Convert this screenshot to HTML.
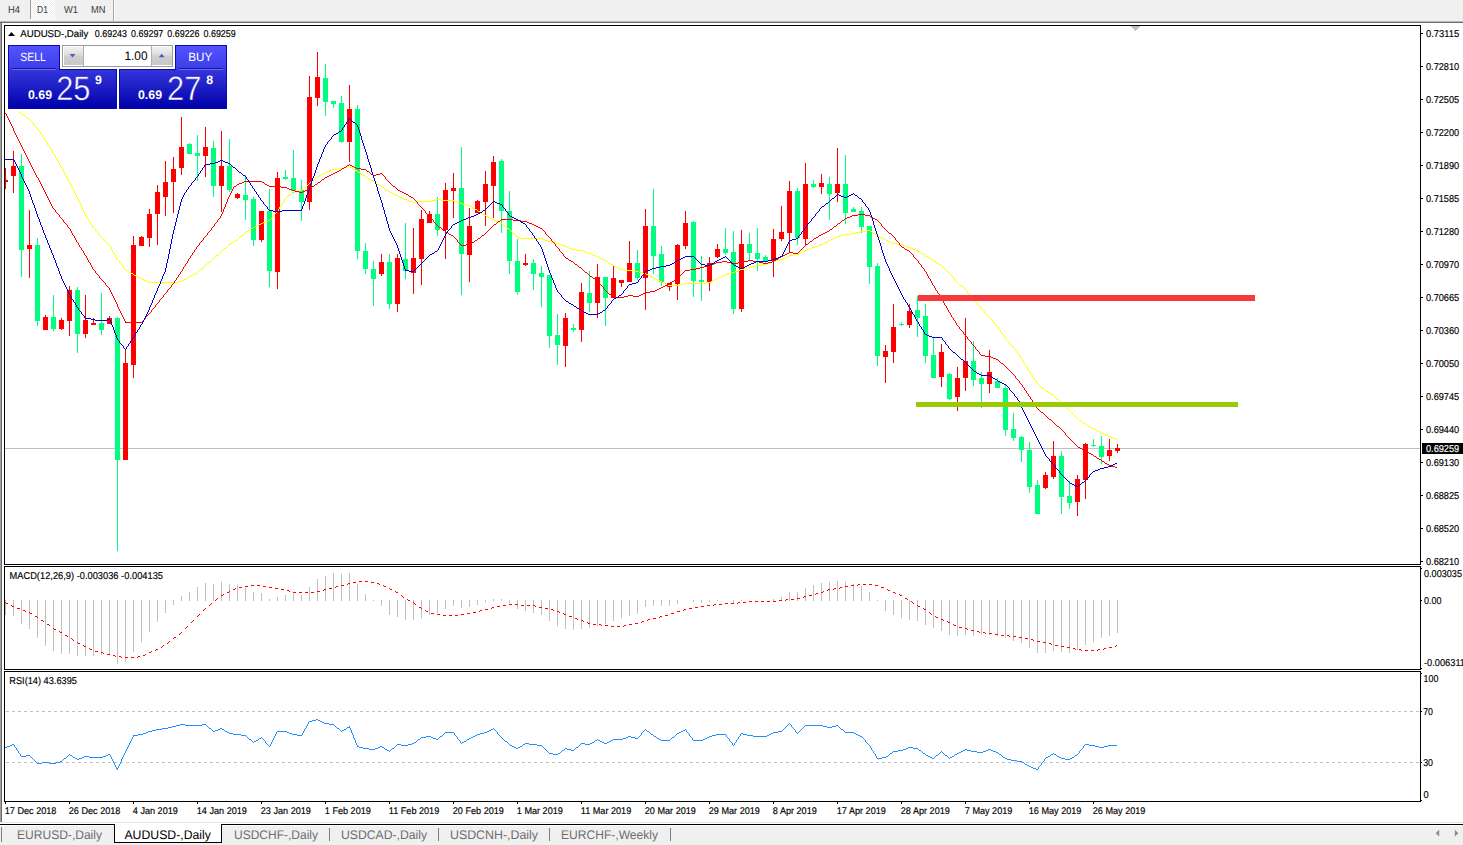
<!DOCTYPE html>
<html><head><meta charset="utf-8"><title>AUDUSD-,Daily</title>
<style>html,body{margin:0;padding:0;background:#f0f0f0;overflow:hidden}svg{display:block}text{font-family:"Liberation Sans",sans-serif}</style></head>
<body>
<svg width="1463" height="845" viewBox="0 0 1463 845" font-family="Liberation Sans, sans-serif" shape-rendering="crispEdges" text-rendering="geometricPrecision">
<defs>
<linearGradient id="gtab" x1="0" y1="0" x2="0" y2="1"><stop offset="0" stop-color="#5555ff"/><stop offset="1" stop-color="#3c3ce6"/></linearGradient>
<linearGradient id="gpan" gradientUnits="userSpaceOnUse" x1="0" y1="69" x2="0" y2="109"><stop offset="0" stop-color="#3636dc"/><stop offset="1" stop-color="#0000aa"/></linearGradient>
<linearGradient id="gbtn" x1="0" y1="0" x2="0" y2="1"><stop offset="0" stop-color="#f2f2f2"/><stop offset="0.45" stop-color="#dcdcdc"/><stop offset="0.5" stop-color="#cfcfcf"/><stop offset="1" stop-color="#c8c8c8"/></linearGradient>
<pattern id="chk" width="2" height="2" patternUnits="userSpaceOnUse"><rect width="2" height="2" fill="#f0f0f0"/><rect width="1" height="1" fill="#ffffff"/><rect x="1" y="1" width="1" height="1" fill="#ffffff"/></pattern>
<clipPath id="cm"><rect x="5" y="26" width="1415" height="538"/></clipPath>
</defs>
<rect x="0" y="0" width="1463" height="845" fill="#f0f0f0" />
<rect x="0" y="21" width="1463" height="1" fill="#b9b9b9" />
<rect x="0" y="22" width="1463" height="1" fill="#6e6e6e" />
<rect x="0" y="23" width="1463" height="803" fill="#ffffff" />
<rect x="0" y="23" width="1" height="800" fill="#a0a0a0" />
<rect x="1" y="23" width="1" height="800" fill="#696969" />
<rect x="0" y="822" width="1463" height="1" fill="#e3e3e3" />
<rect x="0" y="826" width="1463" height="19" fill="#f0f0f0" />
<rect x="30" y="0" width="1" height="19" fill="#a0a0a0" />
<rect x="31" y="0" width="24" height="19" fill="url(#chk)" />
<rect x="113" y="0" width="1" height="21" fill="#a8a8a8" />
<rect x="114" y="0" width="1" height="21" fill="#ffffff" />
<rect x="30" y="19" width="26" height="1" fill="#f8f8f8" />
<text x="8" y="12.9" font-size="10.1" fill="#3c3c3c" text-anchor="start" font-weight="normal" textLength="12" lengthAdjust="spacingAndGlyphs"  >H4</text>
<text x="37" y="12.9" font-size="10.1" fill="#3c3c3c" text-anchor="start" font-weight="normal" textLength="11" lengthAdjust="spacingAndGlyphs"  >D1</text>
<text x="64" y="12.9" font-size="10.1" fill="#3c3c3c" text-anchor="start" font-weight="normal" textLength="14" lengthAdjust="spacingAndGlyphs"  >W1</text>
<text x="91" y="12.9" font-size="10.1" fill="#3c3c3c" text-anchor="start" font-weight="normal" textLength="14.5" lengthAdjust="spacingAndGlyphs"  >MN</text>
<rect x="4" y="25" width="1417" height="1" fill="#000" />
<rect x="4" y="564" width="1417" height="1" fill="#000" />
<rect x="4" y="25" width="1" height="540" fill="#000" />
<rect x="1420" y="25" width="1" height="540" fill="#000" />
<rect x="4" y="566" width="1417" height="1" fill="#000" />
<rect x="4" y="669" width="1417" height="1" fill="#000" />
<rect x="4" y="566" width="1" height="104" fill="#000" />
<rect x="1420" y="566" width="1" height="104" fill="#000" />
<rect x="4" y="671" width="1417" height="1" fill="#000" />
<rect x="4" y="801" width="1417" height="1" fill="#000" />
<rect x="4" y="671" width="1" height="131" fill="#000" />
<rect x="1420" y="671" width="1" height="131" fill="#000" />
<rect x="1421" y="33" width="2" height="1" fill="#000" />
<text transform="translate(1426 36.5) scale(1 1.07)" font-size="9.3" fill="#000" text-anchor="start" font-weight="normal" textLength="33.2" lengthAdjust="spacingAndGlyphs" stroke="#000" stroke-width="0.15">0.73115</text>
<rect x="1421" y="66" width="2" height="1" fill="#000" />
<text transform="translate(1426 69.5) scale(1 1.07)" font-size="9.3" fill="#000" text-anchor="start" font-weight="normal" textLength="33.2" lengthAdjust="spacingAndGlyphs" stroke="#000" stroke-width="0.15">0.72810</text>
<rect x="1421" y="99" width="2" height="1" fill="#000" />
<text transform="translate(1426 102.5) scale(1 1.07)" font-size="9.3" fill="#000" text-anchor="start" font-weight="normal" textLength="33.2" lengthAdjust="spacingAndGlyphs" stroke="#000" stroke-width="0.15">0.72505</text>
<rect x="1421" y="132" width="2" height="1" fill="#000" />
<text transform="translate(1426 135.5) scale(1 1.07)" font-size="9.3" fill="#000" text-anchor="start" font-weight="normal" textLength="33.2" lengthAdjust="spacingAndGlyphs" stroke="#000" stroke-width="0.15">0.72200</text>
<rect x="1421" y="165" width="2" height="1" fill="#000" />
<text transform="translate(1426 168.5) scale(1 1.07)" font-size="9.3" fill="#000" text-anchor="start" font-weight="normal" textLength="33.2" lengthAdjust="spacingAndGlyphs" stroke="#000" stroke-width="0.15">0.71890</text>
<rect x="1421" y="198" width="2" height="1" fill="#000" />
<text transform="translate(1426 201.5) scale(1 1.07)" font-size="9.3" fill="#000" text-anchor="start" font-weight="normal" textLength="33.2" lengthAdjust="spacingAndGlyphs" stroke="#000" stroke-width="0.15">0.71585</text>
<rect x="1421" y="231" width="2" height="1" fill="#000" />
<text transform="translate(1426 234.5) scale(1 1.07)" font-size="9.3" fill="#000" text-anchor="start" font-weight="normal" textLength="33.2" lengthAdjust="spacingAndGlyphs" stroke="#000" stroke-width="0.15">0.71280</text>
<rect x="1421" y="264" width="2" height="1" fill="#000" />
<text transform="translate(1426 267.5) scale(1 1.07)" font-size="9.3" fill="#000" text-anchor="start" font-weight="normal" textLength="33.2" lengthAdjust="spacingAndGlyphs" stroke="#000" stroke-width="0.15">0.70970</text>
<rect x="1421" y="297" width="2" height="1" fill="#000" />
<text transform="translate(1426 300.5) scale(1 1.07)" font-size="9.3" fill="#000" text-anchor="start" font-weight="normal" textLength="33.2" lengthAdjust="spacingAndGlyphs" stroke="#000" stroke-width="0.15">0.70665</text>
<rect x="1421" y="330" width="2" height="1" fill="#000" />
<text transform="translate(1426 333.5) scale(1 1.07)" font-size="9.3" fill="#000" text-anchor="start" font-weight="normal" textLength="33.2" lengthAdjust="spacingAndGlyphs" stroke="#000" stroke-width="0.15">0.70360</text>
<rect x="1421" y="363" width="2" height="1" fill="#000" />
<text transform="translate(1426 366.5) scale(1 1.07)" font-size="9.3" fill="#000" text-anchor="start" font-weight="normal" textLength="33.2" lengthAdjust="spacingAndGlyphs" stroke="#000" stroke-width="0.15">0.70050</text>
<rect x="1421" y="396" width="2" height="1" fill="#000" />
<text transform="translate(1426 399.5) scale(1 1.07)" font-size="9.3" fill="#000" text-anchor="start" font-weight="normal" textLength="33.2" lengthAdjust="spacingAndGlyphs" stroke="#000" stroke-width="0.15">0.69745</text>
<rect x="1421" y="429" width="2" height="1" fill="#000" />
<text transform="translate(1426 432.5) scale(1 1.07)" font-size="9.3" fill="#000" text-anchor="start" font-weight="normal" textLength="33.2" lengthAdjust="spacingAndGlyphs" stroke="#000" stroke-width="0.15">0.69440</text>
<rect x="1421" y="462" width="2" height="1" fill="#000" />
<text transform="translate(1426 465.5) scale(1 1.07)" font-size="9.3" fill="#000" text-anchor="start" font-weight="normal" textLength="33.2" lengthAdjust="spacingAndGlyphs" stroke="#000" stroke-width="0.15">0.69130</text>
<rect x="1421" y="495" width="2" height="1" fill="#000" />
<text transform="translate(1426 498.5) scale(1 1.07)" font-size="9.3" fill="#000" text-anchor="start" font-weight="normal" textLength="33.2" lengthAdjust="spacingAndGlyphs" stroke="#000" stroke-width="0.15">0.68825</text>
<rect x="1421" y="528" width="2" height="1" fill="#000" />
<text transform="translate(1426 531.5) scale(1 1.07)" font-size="9.3" fill="#000" text-anchor="start" font-weight="normal" textLength="33.2" lengthAdjust="spacingAndGlyphs" stroke="#000" stroke-width="0.15">0.68520</text>
<rect x="1421" y="561" width="2" height="1" fill="#000" />
<text transform="translate(1426 564.5) scale(1 1.07)" font-size="9.3" fill="#000" text-anchor="start" font-weight="normal" textLength="33.2" lengthAdjust="spacingAndGlyphs" stroke="#000" stroke-width="0.15">0.68210</text>
<rect x="5" y="448" width="1415" height="1" fill="#c0c0c0" />
<rect x="1422" y="443" width="41" height="11" fill="#000" />
<text transform="translate(1426 451.8) scale(1 1.07)" font-size="9.3" fill="#fff" text-anchor="start" font-weight="normal" textLength="33.2" lengthAdjust="spacingAndGlyphs" stroke="#fff" stroke-width="0.15">0.69259</text>
<rect x="1421" y="568" width="1" height="1" fill="#000" />
<text transform="translate(1424 577) scale(1 1.07)" font-size="9.3" fill="#000" text-anchor="start" font-weight="normal" textLength="38" lengthAdjust="spacingAndGlyphs" stroke="#000" stroke-width="0.15">0.003035</text>
<rect x="1421" y="600" width="1" height="1" fill="#000" />
<text transform="translate(1424 603.5) scale(1 1.07)" font-size="9.3" fill="#000" text-anchor="start" font-weight="normal" textLength="17.5" lengthAdjust="spacingAndGlyphs" stroke="#000" stroke-width="0.15">0.00</text>
<rect x="1421" y="668" width="1" height="1" fill="#000" />
<text transform="translate(1424 666) scale(1 1.07)" font-size="9.3" fill="#000" text-anchor="start" font-weight="normal" textLength="41" lengthAdjust="spacingAndGlyphs" stroke="#000" stroke-width="0.15">-0.006311</text>
<rect x="1421" y="673" width="1" height="1" fill="#000" />
<text transform="translate(1423.6 682) scale(1 1.07)" font-size="9.3" fill="#000" text-anchor="start" font-weight="normal" textLength="14.8" lengthAdjust="spacingAndGlyphs" stroke="#000" stroke-width="0.15">100</text>
<rect x="1421" y="711" width="1" height="1" fill="#000" />
<text transform="translate(1423.2 714.5) scale(1 1.07)" font-size="9.3" fill="#000" text-anchor="start" font-weight="normal" textLength="9.8" lengthAdjust="spacingAndGlyphs" stroke="#000" stroke-width="0.15">70</text>
<rect x="1421" y="762" width="1" height="1" fill="#000" />
<text transform="translate(1423.2 765.5) scale(1 1.07)" font-size="9.3" fill="#000" text-anchor="start" font-weight="normal" textLength="9.8" lengthAdjust="spacingAndGlyphs" stroke="#000" stroke-width="0.15">30</text>
<rect x="1421" y="800" width="1" height="1" fill="#000" />
<text transform="translate(1423.6 797.5) scale(1 1.07)" font-size="9.3" fill="#000" text-anchor="start" font-weight="normal" stroke="#000" stroke-width="0.15">0</text>
<rect x="5" y="802" width="1" height="2" fill="#000" />
<text transform="translate(4.8 814) scale(1 1.07)" font-size="9.1" fill="#000" text-anchor="start" font-weight="normal" stroke="#000" stroke-width="0.15">17 Dec 2018</text>
<rect x="69" y="802" width="1" height="2" fill="#000" />
<text transform="translate(68.8 814) scale(1 1.07)" font-size="9.1" fill="#000" text-anchor="start" font-weight="normal" stroke="#000" stroke-width="0.15">26 Dec 2018</text>
<rect x="133" y="802" width="1" height="2" fill="#000" />
<text transform="translate(132.8 814) scale(1 1.07)" font-size="9.1" fill="#000" text-anchor="start" font-weight="normal" stroke="#000" stroke-width="0.15">4 Jan 2019</text>
<rect x="197" y="802" width="1" height="2" fill="#000" />
<text transform="translate(196.8 814) scale(1 1.07)" font-size="9.1" fill="#000" text-anchor="start" font-weight="normal" stroke="#000" stroke-width="0.15">14 Jan 2019</text>
<rect x="261" y="802" width="1" height="2" fill="#000" />
<text transform="translate(260.8 814) scale(1 1.07)" font-size="9.1" fill="#000" text-anchor="start" font-weight="normal" stroke="#000" stroke-width="0.15">23 Jan 2019</text>
<rect x="325" y="802" width="1" height="2" fill="#000" />
<text transform="translate(324.8 814) scale(1 1.07)" font-size="9.1" fill="#000" text-anchor="start" font-weight="normal" stroke="#000" stroke-width="0.15">1 Feb 2019</text>
<rect x="389" y="802" width="1" height="2" fill="#000" />
<text transform="translate(388.8 814) scale(1 1.07)" font-size="9.1" fill="#000" text-anchor="start" font-weight="normal" stroke="#000" stroke-width="0.15">11 Feb 2019</text>
<rect x="453" y="802" width="1" height="2" fill="#000" />
<text transform="translate(452.8 814) scale(1 1.07)" font-size="9.1" fill="#000" text-anchor="start" font-weight="normal" stroke="#000" stroke-width="0.15">20 Feb 2019</text>
<rect x="517" y="802" width="1" height="2" fill="#000" />
<text transform="translate(516.8 814) scale(1 1.07)" font-size="9.1" fill="#000" text-anchor="start" font-weight="normal" stroke="#000" stroke-width="0.15">1 Mar 2019</text>
<rect x="581" y="802" width="1" height="2" fill="#000" />
<text transform="translate(580.8 814) scale(1 1.07)" font-size="9.1" fill="#000" text-anchor="start" font-weight="normal" stroke="#000" stroke-width="0.15">11 Mar 2019</text>
<rect x="645" y="802" width="1" height="2" fill="#000" />
<text transform="translate(644.8 814) scale(1 1.07)" font-size="9.1" fill="#000" text-anchor="start" font-weight="normal" stroke="#000" stroke-width="0.15">20 Mar 2019</text>
<rect x="709" y="802" width="1" height="2" fill="#000" />
<text transform="translate(708.8 814) scale(1 1.07)" font-size="9.1" fill="#000" text-anchor="start" font-weight="normal" stroke="#000" stroke-width="0.15">29 Mar 2019</text>
<rect x="773" y="802" width="1" height="2" fill="#000" />
<text transform="translate(772.8 814) scale(1 1.07)" font-size="9.1" fill="#000" text-anchor="start" font-weight="normal" stroke="#000" stroke-width="0.15">8 Apr 2019</text>
<rect x="837" y="802" width="1" height="2" fill="#000" />
<text transform="translate(836.8 814) scale(1 1.07)" font-size="9.1" fill="#000" text-anchor="start" font-weight="normal" stroke="#000" stroke-width="0.15">17 Apr 2019</text>
<rect x="901" y="802" width="1" height="2" fill="#000" />
<text transform="translate(900.8 814) scale(1 1.07)" font-size="9.1" fill="#000" text-anchor="start" font-weight="normal" stroke="#000" stroke-width="0.15">28 Apr 2019</text>
<rect x="965" y="802" width="1" height="2" fill="#000" />
<text transform="translate(964.8 814) scale(1 1.07)" font-size="9.1" fill="#000" text-anchor="start" font-weight="normal" stroke="#000" stroke-width="0.15">7 May 2019</text>
<rect x="1029" y="802" width="1" height="2" fill="#000" />
<text transform="translate(1028.8 814) scale(1 1.07)" font-size="9.1" fill="#000" text-anchor="start" font-weight="normal" stroke="#000" stroke-width="0.15">16 May 2019</text>
<rect x="1093" y="802" width="1" height="2" fill="#000" />
<text transform="translate(1092.8 814) scale(1 1.07)" font-size="9.1" fill="#000" text-anchor="start" font-weight="normal" stroke="#000" stroke-width="0.15">26 May 2019</text>
<g stroke="#c0c0c0" stroke-width="1" stroke-dasharray="3 3">
<line x1="6" y1="711.5" x2="1420" y2="711.5"/><line x1="6" y1="762.5" x2="1420" y2="762.5"/></g>
<g clip-path="url(#cm)">
<rect x="5" y="168" width="1" height="21" fill="#ff0000" />
<rect x="3" y="180" width="5" height="2" fill="#ff0000" />
<rect x="13" y="151" width="1" height="42" fill="#ff0000" />
<rect x="11" y="166" width="5" height="10" fill="#ff0000" />
<rect x="21" y="154" width="1" height="123" fill="#00ff7f" />
<rect x="19" y="166" width="5" height="84" fill="#00ff7f" />
<rect x="29" y="210" width="1" height="68" fill="#ff0000" />
<rect x="27" y="245" width="5" height="4" fill="#ff0000" />
<rect x="37" y="238" width="1" height="88" fill="#00ff7f" />
<rect x="35" y="245" width="5" height="76" fill="#00ff7f" />
<rect x="45" y="315" width="1" height="15" fill="#ff0000" />
<rect x="43" y="317" width="5" height="13" fill="#ff0000" />
<rect x="53" y="295" width="1" height="36" fill="#00ff7f" />
<rect x="51" y="317" width="5" height="12" fill="#00ff7f" />
<rect x="61" y="318" width="1" height="12" fill="#ff0000" />
<rect x="59" y="320" width="5" height="9" fill="#ff0000" />
<rect x="69" y="286" width="1" height="50" fill="#ff0000" />
<rect x="67" y="290" width="5" height="31" fill="#ff0000" />
<rect x="77" y="287" width="1" height="66" fill="#00ff7f" />
<rect x="75" y="290" width="5" height="44" fill="#00ff7f" />
<rect x="85" y="295" width="1" height="43" fill="#ff0000" />
<rect x="83" y="320" width="5" height="14" fill="#ff0000" />
<rect x="93" y="318" width="1" height="7" fill="#ff0000" />
<rect x="91" y="323" width="5" height="2" fill="#ff0000" />
<rect x="101" y="293" width="1" height="42" fill="#00ff7f" />
<rect x="99" y="323" width="5" height="7" fill="#00ff7f" />
<rect x="109" y="316" width="1" height="8" fill="#ff0000" />
<rect x="107" y="318" width="5" height="6" fill="#ff0000" />
<rect x="117" y="317" width="1" height="234" fill="#00ff7f" />
<rect x="115" y="318" width="5" height="142" fill="#00ff7f" />
<rect x="125" y="349" width="1" height="111" fill="#ff0000" />
<rect x="123" y="363" width="5" height="97" fill="#ff0000" />
<rect x="133" y="236" width="1" height="142" fill="#ff0000" />
<rect x="131" y="245" width="5" height="120" fill="#ff0000" />
<rect x="141" y="236" width="1" height="10" fill="#ff0000" />
<rect x="139" y="237" width="5" height="9" fill="#ff0000" />
<rect x="149" y="209" width="1" height="38" fill="#ff0000" />
<rect x="147" y="214" width="5" height="24" fill="#ff0000" />
<rect x="157" y="185" width="1" height="60" fill="#ff0000" />
<rect x="155" y="192" width="5" height="22" fill="#ff0000" />
<rect x="165" y="161" width="1" height="55" fill="#ff0000" />
<rect x="163" y="182" width="5" height="15" fill="#ff0000" />
<rect x="173" y="157" width="1" height="56" fill="#ff0000" />
<rect x="171" y="169" width="5" height="13" fill="#ff0000" />
<rect x="181" y="117" width="1" height="58" fill="#ff0000" />
<rect x="179" y="147" width="5" height="21" fill="#ff0000" />
<rect x="189" y="143" width="1" height="11" fill="#00ff7f" />
<rect x="187" y="144" width="5" height="10" fill="#00ff7f" />
<rect x="197" y="135" width="1" height="46" fill="#00ff7f" />
<rect x="195" y="153" width="5" height="3" fill="#00ff7f" />
<rect x="205" y="127" width="1" height="50" fill="#ff0000" />
<rect x="203" y="147" width="5" height="9" fill="#ff0000" />
<rect x="213" y="141" width="1" height="56" fill="#00ff7f" />
<rect x="211" y="148" width="5" height="38" fill="#00ff7f" />
<rect x="221" y="131" width="1" height="81" fill="#ff0000" />
<rect x="219" y="166" width="5" height="20" fill="#ff0000" />
<rect x="229" y="139" width="1" height="53" fill="#00ff7f" />
<rect x="227" y="166" width="5" height="24" fill="#00ff7f" />
<rect x="237" y="193" width="1" height="6" fill="#ff0000" />
<rect x="235" y="194" width="5" height="4" fill="#ff0000" />
<rect x="245" y="175" width="1" height="45" fill="#00ff7f" />
<rect x="243" y="195" width="5" height="5" fill="#00ff7f" />
<rect x="253" y="197" width="1" height="49" fill="#00ff7f" />
<rect x="251" y="199" width="5" height="41" fill="#00ff7f" />
<rect x="261" y="211" width="1" height="31" fill="#ff0000" />
<rect x="259" y="211" width="5" height="29" fill="#ff0000" />
<rect x="269" y="189" width="1" height="98" fill="#00ff7f" />
<rect x="267" y="211" width="5" height="60" fill="#00ff7f" />
<rect x="277" y="172" width="1" height="117" fill="#ff0000" />
<rect x="275" y="178" width="5" height="94" fill="#ff0000" />
<rect x="285" y="170" width="1" height="10" fill="#00ff7f" />
<rect x="283" y="177" width="5" height="2" fill="#00ff7f" />
<rect x="293" y="150" width="1" height="43" fill="#00ff7f" />
<rect x="291" y="178" width="5" height="13" fill="#00ff7f" />
<rect x="301" y="180" width="1" height="41" fill="#00ff7f" />
<rect x="299" y="190" width="5" height="12" fill="#00ff7f" />
<rect x="309" y="76" width="1" height="134" fill="#ff0000" />
<rect x="307" y="97" width="5" height="105" fill="#ff0000" />
<rect x="317" y="52" width="1" height="54" fill="#ff0000" />
<rect x="315" y="77" width="5" height="21" fill="#ff0000" />
<rect x="325" y="64" width="1" height="52" fill="#00ff7f" />
<rect x="323" y="78" width="5" height="24" fill="#00ff7f" />
<rect x="333" y="101" width="1" height="7" fill="#00ff7f" />
<rect x="331" y="101" width="5" height="3" fill="#00ff7f" />
<rect x="341" y="96" width="1" height="47" fill="#00ff7f" />
<rect x="339" y="103" width="5" height="39" fill="#00ff7f" />
<rect x="349" y="85" width="1" height="77" fill="#ff0000" />
<rect x="347" y="109" width="5" height="33" fill="#ff0000" />
<rect x="357" y="105" width="1" height="154" fill="#00ff7f" />
<rect x="355" y="109" width="5" height="142" fill="#00ff7f" />
<rect x="365" y="243" width="1" height="31" fill="#00ff7f" />
<rect x="363" y="251" width="5" height="18" fill="#00ff7f" />
<rect x="373" y="261" width="1" height="45" fill="#00ff7f" />
<rect x="371" y="269" width="5" height="10" fill="#00ff7f" />
<rect x="381" y="254" width="1" height="22" fill="#ff0000" />
<rect x="379" y="262" width="5" height="12" fill="#ff0000" />
<rect x="389" y="254" width="1" height="55" fill="#00ff7f" />
<rect x="387" y="262" width="5" height="42" fill="#00ff7f" />
<rect x="397" y="254" width="1" height="58" fill="#ff0000" />
<rect x="395" y="258" width="5" height="46" fill="#ff0000" />
<rect x="405" y="223" width="1" height="56" fill="#00ff7f" />
<rect x="403" y="259" width="5" height="12" fill="#00ff7f" />
<rect x="413" y="228" width="1" height="66" fill="#ff0000" />
<rect x="411" y="258" width="5" height="15" fill="#ff0000" />
<rect x="421" y="210" width="1" height="75" fill="#ff0000" />
<rect x="419" y="219" width="5" height="40" fill="#ff0000" />
<rect x="429" y="211" width="1" height="12" fill="#ff0000" />
<rect x="427" y="214" width="5" height="9" fill="#ff0000" />
<rect x="437" y="197" width="1" height="39" fill="#00ff7f" />
<rect x="435" y="214" width="5" height="16" fill="#00ff7f" />
<rect x="445" y="183" width="1" height="76" fill="#ff0000" />
<rect x="443" y="190" width="5" height="40" fill="#ff0000" />
<rect x="453" y="173" width="1" height="45" fill="#ff0000" />
<rect x="451" y="188" width="5" height="3" fill="#ff0000" />
<rect x="461" y="147" width="1" height="148" fill="#00ff7f" />
<rect x="459" y="188" width="5" height="66" fill="#00ff7f" />
<rect x="469" y="208" width="1" height="74" fill="#ff0000" />
<rect x="467" y="226" width="5" height="29" fill="#ff0000" />
<rect x="477" y="200" width="1" height="13" fill="#ff0000" />
<rect x="475" y="201" width="5" height="12" fill="#ff0000" />
<rect x="485" y="171" width="1" height="55" fill="#ff0000" />
<rect x="483" y="184" width="5" height="18" fill="#ff0000" />
<rect x="493" y="156" width="1" height="62" fill="#ff0000" />
<rect x="491" y="162" width="5" height="24" fill="#ff0000" />
<rect x="501" y="159" width="1" height="74" fill="#00ff7f" />
<rect x="499" y="161" width="5" height="50" fill="#00ff7f" />
<rect x="509" y="191" width="1" height="83" fill="#00ff7f" />
<rect x="507" y="211" width="5" height="50" fill="#00ff7f" />
<rect x="517" y="239" width="1" height="56" fill="#00ff7f" />
<rect x="515" y="261" width="5" height="31" fill="#00ff7f" />
<rect x="525" y="254" width="1" height="12" fill="#ff0000" />
<rect x="523" y="263" width="5" height="2" fill="#ff0000" />
<rect x="533" y="259" width="1" height="31" fill="#00ff7f" />
<rect x="531" y="263" width="5" height="11" fill="#00ff7f" />
<rect x="541" y="266" width="1" height="41" fill="#00ff7f" />
<rect x="539" y="273" width="5" height="4" fill="#00ff7f" />
<rect x="549" y="275" width="1" height="73" fill="#00ff7f" />
<rect x="547" y="275" width="5" height="61" fill="#00ff7f" />
<rect x="557" y="314" width="1" height="51" fill="#00ff7f" />
<rect x="555" y="335" width="5" height="10" fill="#00ff7f" />
<rect x="565" y="313" width="1" height="54" fill="#ff0000" />
<rect x="563" y="318" width="5" height="28" fill="#ff0000" />
<rect x="573" y="324" width="1" height="8" fill="#00ff7f" />
<rect x="571" y="328" width="5" height="2" fill="#00ff7f" />
<rect x="581" y="283" width="1" height="59" fill="#ff0000" />
<rect x="579" y="292" width="5" height="38" fill="#ff0000" />
<rect x="589" y="271" width="1" height="41" fill="#00ff7f" />
<rect x="587" y="293" width="5" height="10" fill="#00ff7f" />
<rect x="597" y="264" width="1" height="54" fill="#ff0000" />
<rect x="595" y="277" width="5" height="26" fill="#ff0000" />
<rect x="605" y="277" width="1" height="49" fill="#00ff7f" />
<rect x="603" y="277" width="5" height="21" fill="#00ff7f" />
<rect x="613" y="265" width="1" height="33" fill="#ff0000" />
<rect x="611" y="278" width="5" height="20" fill="#ff0000" />
<rect x="621" y="280" width="1" height="7" fill="#ff0000" />
<rect x="619" y="280" width="5" height="3" fill="#ff0000" />
<rect x="629" y="241" width="1" height="41" fill="#ff0000" />
<rect x="627" y="263" width="5" height="19" fill="#ff0000" />
<rect x="637" y="250" width="1" height="30" fill="#00ff7f" />
<rect x="635" y="263" width="5" height="15" fill="#00ff7f" />
<rect x="645" y="209" width="1" height="101" fill="#ff0000" />
<rect x="643" y="226" width="5" height="52" fill="#ff0000" />
<rect x="653" y="189" width="1" height="85" fill="#00ff7f" />
<rect x="651" y="226" width="5" height="30" fill="#00ff7f" />
<rect x="661" y="246" width="1" height="40" fill="#00ff7f" />
<rect x="659" y="254" width="5" height="28" fill="#00ff7f" />
<rect x="669" y="283" width="1" height="8" fill="#ff0000" />
<rect x="667" y="283" width="5" height="4" fill="#ff0000" />
<rect x="677" y="244" width="1" height="56" fill="#ff0000" />
<rect x="675" y="245" width="5" height="39" fill="#ff0000" />
<rect x="685" y="211" width="1" height="38" fill="#ff0000" />
<rect x="683" y="223" width="5" height="23" fill="#ff0000" />
<rect x="693" y="221" width="1" height="76" fill="#00ff7f" />
<rect x="691" y="222" width="5" height="59" fill="#00ff7f" />
<rect x="701" y="256" width="1" height="45" fill="#00ff7f" />
<rect x="699" y="280" width="5" height="2" fill="#00ff7f" />
<rect x="709" y="257" width="1" height="34" fill="#ff0000" />
<rect x="707" y="263" width="5" height="19" fill="#ff0000" />
<rect x="717" y="244" width="1" height="14" fill="#ff0000" />
<rect x="715" y="249" width="5" height="8" fill="#ff0000" />
<rect x="725" y="228" width="1" height="27" fill="#00ff7f" />
<rect x="723" y="249" width="5" height="4" fill="#00ff7f" />
<rect x="733" y="231" width="1" height="83" fill="#00ff7f" />
<rect x="731" y="252" width="5" height="57" fill="#00ff7f" />
<rect x="741" y="230" width="1" height="82" fill="#ff0000" />
<rect x="739" y="244" width="5" height="65" fill="#ff0000" />
<rect x="749" y="233" width="1" height="28" fill="#00ff7f" />
<rect x="747" y="244" width="5" height="9" fill="#00ff7f" />
<rect x="757" y="228" width="1" height="43" fill="#00ff7f" />
<rect x="755" y="253" width="5" height="6" fill="#00ff7f" />
<rect x="765" y="255" width="1" height="9" fill="#00ff7f" />
<rect x="763" y="257" width="5" height="5" fill="#00ff7f" />
<rect x="773" y="229" width="1" height="48" fill="#ff0000" />
<rect x="771" y="239" width="5" height="22" fill="#ff0000" />
<rect x="781" y="206" width="1" height="35" fill="#ff0000" />
<rect x="779" y="232" width="5" height="7" fill="#ff0000" />
<rect x="789" y="181" width="1" height="72" fill="#ff0000" />
<rect x="787" y="191" width="5" height="42" fill="#ff0000" />
<rect x="797" y="188" width="1" height="57" fill="#00ff7f" />
<rect x="795" y="191" width="5" height="47" fill="#00ff7f" />
<rect x="805" y="163" width="1" height="83" fill="#ff0000" />
<rect x="803" y="184" width="5" height="55" fill="#ff0000" />
<rect x="813" y="180" width="1" height="8" fill="#00ff7f" />
<rect x="811" y="184" width="5" height="3" fill="#00ff7f" />
<rect x="821" y="174" width="1" height="20" fill="#ff0000" />
<rect x="819" y="183" width="5" height="4" fill="#ff0000" />
<rect x="829" y="177" width="1" height="43" fill="#00ff7f" />
<rect x="827" y="184" width="5" height="10" fill="#00ff7f" />
<rect x="837" y="148" width="1" height="54" fill="#ff0000" />
<rect x="835" y="184" width="5" height="9" fill="#ff0000" />
<rect x="845" y="155" width="1" height="69" fill="#00ff7f" />
<rect x="843" y="184" width="5" height="29" fill="#00ff7f" />
<rect x="853" y="207" width="1" height="5" fill="#00ff7f" />
<rect x="851" y="209" width="5" height="3" fill="#00ff7f" />
<rect x="861" y="207" width="1" height="26" fill="#00ff7f" />
<rect x="859" y="211" width="5" height="16" fill="#00ff7f" />
<rect x="869" y="226" width="1" height="58" fill="#00ff7f" />
<rect x="867" y="226" width="5" height="41" fill="#00ff7f" />
<rect x="877" y="263" width="1" height="103" fill="#00ff7f" />
<rect x="875" y="266" width="5" height="90" fill="#00ff7f" />
<rect x="885" y="345" width="1" height="38" fill="#ff0000" />
<rect x="883" y="351" width="5" height="6" fill="#ff0000" />
<rect x="893" y="304" width="1" height="59" fill="#ff0000" />
<rect x="891" y="327" width="5" height="25" fill="#ff0000" />
<rect x="901" y="322" width="1" height="4" fill="#00ff7f" />
<rect x="899" y="324" width="5" height="1" fill="#00ff7f" />
<rect x="909" y="304" width="1" height="24" fill="#ff0000" />
<rect x="907" y="311" width="5" height="14" fill="#ff0000" />
<rect x="917" y="296" width="1" height="41" fill="#00ff7f" />
<rect x="915" y="310" width="5" height="8" fill="#00ff7f" />
<rect x="925" y="304" width="1" height="59" fill="#00ff7f" />
<rect x="923" y="316" width="5" height="40" fill="#00ff7f" />
<rect x="933" y="338" width="1" height="40" fill="#00ff7f" />
<rect x="931" y="355" width="5" height="23" fill="#00ff7f" />
<rect x="941" y="344" width="1" height="43" fill="#ff0000" />
<rect x="939" y="352" width="5" height="25" fill="#ff0000" />
<rect x="949" y="373" width="1" height="27" fill="#00ff7f" />
<rect x="947" y="374" width="5" height="25" fill="#00ff7f" />
<rect x="957" y="367" width="1" height="44" fill="#ff0000" />
<rect x="955" y="378" width="5" height="19" fill="#ff0000" />
<rect x="965" y="318" width="1" height="73" fill="#ff0000" />
<rect x="963" y="361" width="5" height="17" fill="#ff0000" />
<rect x="973" y="341" width="1" height="45" fill="#00ff7f" />
<rect x="971" y="361" width="5" height="19" fill="#00ff7f" />
<rect x="981" y="372" width="1" height="36" fill="#00ff7f" />
<rect x="979" y="378" width="5" height="6" fill="#00ff7f" />
<rect x="989" y="350" width="1" height="43" fill="#ff0000" />
<rect x="987" y="372" width="5" height="12" fill="#ff0000" />
<rect x="997" y="378" width="1" height="10" fill="#00ff7f" />
<rect x="995" y="381" width="5" height="7" fill="#00ff7f" />
<rect x="1005" y="384" width="1" height="52" fill="#00ff7f" />
<rect x="1003" y="388" width="5" height="42" fill="#00ff7f" />
<rect x="1013" y="413" width="1" height="28" fill="#00ff7f" />
<rect x="1011" y="429" width="5" height="9" fill="#00ff7f" />
<rect x="1021" y="436" width="1" height="26" fill="#00ff7f" />
<rect x="1019" y="437" width="5" height="13" fill="#00ff7f" />
<rect x="1029" y="442" width="1" height="51" fill="#00ff7f" />
<rect x="1027" y="450" width="5" height="37" fill="#00ff7f" />
<rect x="1037" y="480" width="1" height="34" fill="#00ff7f" />
<rect x="1035" y="485" width="5" height="29" fill="#00ff7f" />
<rect x="1045" y="472" width="1" height="17" fill="#ff0000" />
<rect x="1043" y="475" width="5" height="13" fill="#ff0000" />
<rect x="1053" y="441" width="1" height="38" fill="#ff0000" />
<rect x="1051" y="456" width="5" height="21" fill="#ff0000" />
<rect x="1061" y="451" width="1" height="63" fill="#00ff7f" />
<rect x="1059" y="456" width="5" height="41" fill="#00ff7f" />
<rect x="1069" y="481" width="1" height="28" fill="#00ff7f" />
<rect x="1067" y="496" width="5" height="7" fill="#00ff7f" />
<rect x="1077" y="475" width="1" height="41" fill="#ff0000" />
<rect x="1075" y="479" width="5" height="23" fill="#ff0000" />
<rect x="1085" y="443" width="1" height="56" fill="#ff0000" />
<rect x="1083" y="444" width="5" height="36" fill="#ff0000" />
<rect x="1093" y="439" width="1" height="8" fill="#00ff7f" />
<rect x="1091" y="445" width="5" height="1" fill="#00ff7f" />
<rect x="1101" y="436" width="1" height="28" fill="#00ff7f" />
<rect x="1099" y="446" width="5" height="11" fill="#00ff7f" />
<rect x="1109" y="439" width="1" height="22" fill="#ff0000" />
<rect x="1107" y="450" width="5" height="6" fill="#ff0000" />
<rect x="1117" y="444" width="1" height="9" fill="#ff0000" />
<rect x="1115" y="448" width="5" height="3" fill="#ff0000" />
<path d="M5 105h2v1h-2zM7 106h2v1h-2zM9 107h3v1h-3zM12 108h2v1h-2zM14 109h2v1h-2zM16 110h2v1h-2zM18 111h1v1h-1zM19 112h1v1h-1zM20 113h2v1h-2zM22 114h1v1h-1zM23 115h2v1h-2zM25 116h1v1h-1zM26 117h1v1h-1zM27 118h2v1h-2zM29 119h1v1h-1zM30 120h1v1h-1zM31 121h1v1h-1zM32 122h1v1h-1zM33 123h1v1h-1zM33 124h1v1h-1zM34 125h1v1h-1zM35 126h1v1h-1zM36 127h1v1h-1zM37 128h1v1h-1zM38 129h1v1h-1zM38 130h1v1h-1zM39 131h1v1h-1zM40 132h1v1h-1zM40 133h1v1h-1zM41 134h1v1h-1zM42 135h1v1h-1zM42 136h1v1h-1zM43 137h1v1h-1zM44 138h1v1h-1zM44 139h1v1h-1zM45 140h1v1h-1zM46 141h1v1h-1zM46 142h1v1h-1zM47 143h1v1h-1zM47 144h1v1h-1zM48 145h1v1h-1zM49 146h1v1h-1zM49 147h1v1h-1zM50 148h1v1h-1zM51 149h1v1h-1zM51 150h1v1h-1zM52 151h1v1h-1zM52 152h1v1h-1zM53 153h1v1h-1zM54 154h1v1h-1zM54 155h1v1h-1zM55 156h1v1h-1zM55 157h1v1h-1zM56 158h1v1h-1zM56 159h1v1h-1zM57 160h1v1h-1zM58 161h1v1h-1zM58 162h1v1h-1zM59 163h1v1h-1zM59 164h1v1h-1zM60 165h1v1h-1zM60 166h1v1h-1zM348 166h2v1h-2zM61 167h1v1h-1zM344 167h4v1h-4zM350 167h2v1h-2zM62 168h1v1h-1zM338 168h6v1h-6zM352 168h1v1h-1zM62 169h1v1h-1zM332 169h6v1h-6zM353 169h2v1h-2zM63 170h1v1h-1zM330 170h2v1h-2zM355 170h2v1h-2zM63 171h1v1h-1zM327 171h3v1h-3zM357 171h1v1h-1zM64 172h1v1h-1zM325 172h2v1h-2zM358 172h2v1h-2zM64 173h1v1h-1zM323 173h2v1h-2zM360 173h1v1h-1zM65 174h1v1h-1zM321 174h2v1h-2zM361 174h2v1h-2zM65 175h1v1h-1zM319 175h2v1h-2zM363 175h2v1h-2zM66 176h1v1h-1zM317 176h2v1h-2zM365 176h1v1h-1zM66 177h1v1h-1zM316 177h1v1h-1zM366 177h2v1h-2zM67 178h1v1h-1zM315 178h1v1h-1zM368 178h1v1h-1zM67 179h1v1h-1zM314 179h1v1h-1zM369 179h2v1h-2zM68 180h1v1h-1zM312 180h2v1h-2zM371 180h2v1h-2zM68 181h1v1h-1zM311 181h1v1h-1zM373 181h1v1h-1zM69 182h1v1h-1zM310 182h1v1h-1zM374 182h2v1h-2zM70 183h1v1h-1zM309 183h1v1h-1zM376 183h1v1h-1zM70 184h1v1h-1zM308 184h1v1h-1zM377 184h2v1h-2zM71 185h1v1h-1zM307 185h1v1h-1zM379 185h2v1h-2zM71 186h1v1h-1zM306 186h1v1h-1zM381 186h1v1h-1zM72 187h1v1h-1zM304 187h2v1h-2zM382 187h2v1h-2zM72 188h1v1h-1zM303 188h1v1h-1zM384 188h1v1h-1zM73 189h1v1h-1zM302 189h1v1h-1zM385 189h2v1h-2zM73 190h1v1h-1zM298 190h4v1h-4zM387 190h2v1h-2zM74 191h1v1h-1zM293 191h5v1h-5zM389 191h1v1h-1zM74 192h1v1h-1zM292 192h1v1h-1zM390 192h2v1h-2zM75 193h1v1h-1zM291 193h1v1h-1zM392 193h2v1h-2zM75 194h1v1h-1zM290 194h1v1h-1zM394 194h2v1h-2zM76 195h1v1h-1zM288 195h2v1h-2zM396 195h2v1h-2zM76 196h1v1h-1zM287 196h1v1h-1zM398 196h2v1h-2zM77 197h1v1h-1zM286 197h1v1h-1zM400 197h2v1h-2zM77 198h1v1h-1zM285 198h1v1h-1zM402 198h2v1h-2zM78 199h1v1h-1zM284 199h1v1h-1zM404 199h3v1h-3zM436 199h5v1h-5zM78 200h1v1h-1zM284 200h1v1h-1zM407 200h2v1h-2zM432 200h4v1h-4zM441 200h14v1h-14zM79 201h1v1h-1zM283 201h1v1h-1zM409 201h3v1h-3zM418 201h14v1h-14zM455 201h2v1h-2zM79 202h1v1h-1zM283 202h1v1h-1zM412 202h6v1h-6zM457 202h3v1h-3zM80 203h1v1h-1zM282 203h1v1h-1zM460 203h3v1h-3zM80 204h1v1h-1zM281 204h1v1h-1zM463 204h4v1h-4zM81 205h1v1h-1zM281 205h1v1h-1zM467 205h3v1h-3zM81 206h1v1h-1zM280 206h1v1h-1zM470 206h2v1h-2zM81 207h1v1h-1zM279 207h1v1h-1zM472 207h1v1h-1zM82 208h1v1h-1zM279 208h1v1h-1zM473 208h2v1h-2zM82 209h1v1h-1zM278 209h1v1h-1zM475 209h2v1h-2zM83 210h1v1h-1zM278 210h1v1h-1zM477 210h1v1h-1zM83 211h1v1h-1zM277 211h1v1h-1zM478 211h2v1h-2zM84 212h1v1h-1zM276 212h1v1h-1zM480 212h1v1h-1zM84 213h1v1h-1zM275 213h1v1h-1zM481 213h2v1h-2zM85 214h1v1h-1zM274 214h1v1h-1zM483 214h2v1h-2zM85 215h1v1h-1zM273 215h1v1h-1zM485 215h1v1h-1zM86 216h1v1h-1zM273 216h1v1h-1zM486 216h2v1h-2zM86 217h1v1h-1zM272 217h1v1h-1zM488 217h2v1h-2zM87 218h1v1h-1zM271 218h1v1h-1zM490 218h2v1h-2zM88 219h1v1h-1zM270 219h1v1h-1zM492 219h2v1h-2zM88 220h1v1h-1zM268 220h2v1h-2zM494 220h2v1h-2zM89 221h1v1h-1zM266 221h2v1h-2zM496 221h2v1h-2zM90 222h1v1h-1zM263 222h3v1h-3zM498 222h2v1h-2zM90 223h1v1h-1zM261 223h2v1h-2zM500 223h2v1h-2zM91 224h1v1h-1zM259 224h2v1h-2zM502 224h1v1h-1zM92 225h1v1h-1zM257 225h2v1h-2zM503 225h2v1h-2zM92 226h1v1h-1zM255 226h2v1h-2zM505 226h1v1h-1zM93 227h1v1h-1zM253 227h2v1h-2zM506 227h1v1h-1zM94 228h1v1h-1zM251 228h2v1h-2zM507 228h2v1h-2zM95 229h1v1h-1zM250 229h1v1h-1zM509 229h1v1h-1zM95 230h1v1h-1zM248 230h2v1h-2zM510 230h1v1h-1zM866 230h4v1h-4zM96 231h1v1h-1zM246 231h2v1h-2zM511 231h1v1h-1zM860 231h6v1h-6zM870 231h2v1h-2zM97 232h1v1h-1zM245 232h1v1h-1zM512 232h1v1h-1zM856 232h4v1h-4zM872 232h1v1h-1zM98 233h1v1h-1zM244 233h1v1h-1zM513 233h1v1h-1zM850 233h6v1h-6zM873 233h2v1h-2zM99 234h1v1h-1zM243 234h1v1h-1zM514 234h1v1h-1zM844 234h6v1h-6zM875 234h2v1h-2zM99 235h1v1h-1zM242 235h1v1h-1zM515 235h1v1h-1zM840 235h4v1h-4zM877 235h1v1h-1zM100 236h1v1h-1zM240 236h2v1h-2zM516 236h1v1h-1zM837 236h3v1h-3zM878 236h2v1h-2zM101 237h1v1h-1zM239 237h1v1h-1zM517 237h4v1h-4zM835 237h2v1h-2zM880 237h2v1h-2zM102 238h1v1h-1zM238 238h1v1h-1zM521 238h22v1h-22zM833 238h2v1h-2zM882 238h2v1h-2zM103 239h1v1h-1zM237 239h1v1h-1zM543 239h2v1h-2zM831 239h2v1h-2zM884 239h2v1h-2zM104 240h1v1h-1zM235 240h2v1h-2zM545 240h3v1h-3zM829 240h2v1h-2zM886 240h2v1h-2zM105 241h1v1h-1zM234 241h1v1h-1zM548 241h3v1h-3zM827 241h2v1h-2zM888 241h2v1h-2zM106 242h1v1h-1zM232 242h2v1h-2zM551 242h4v1h-4zM825 242h2v1h-2zM890 242h2v1h-2zM107 243h1v1h-1zM230 243h2v1h-2zM555 243h4v1h-4zM823 243h2v1h-2zM892 243h5v1h-5zM108 244h1v1h-1zM229 244h1v1h-1zM559 244h2v1h-2zM820 244h3v1h-3zM897 244h6v1h-6zM109 245h1v1h-1zM228 245h1v1h-1zM561 245h3v1h-3zM818 245h2v1h-2zM903 245h2v1h-2zM110 246h1v1h-1zM227 246h1v1h-1zM564 246h3v1h-3zM815 246h3v1h-3zM905 246h3v1h-3zM110 247h1v1h-1zM226 247h1v1h-1zM567 247h2v1h-2zM812 247h3v1h-3zM908 247h3v1h-3zM111 248h1v1h-1zM224 248h2v1h-2zM569 248h3v1h-3zM810 248h2v1h-2zM911 248h2v1h-2zM111 249h1v1h-1zM223 249h1v1h-1zM572 249h5v1h-5zM807 249h3v1h-3zM913 249h3v1h-3zM112 250h1v1h-1zM222 250h1v1h-1zM577 250h6v1h-6zM805 250h2v1h-2zM916 250h2v1h-2zM112 251h1v1h-1zM221 251h1v1h-1zM583 251h2v1h-2zM803 251h2v1h-2zM918 251h2v1h-2zM113 252h1v1h-1zM220 252h1v1h-1zM585 252h3v1h-3zM801 252h2v1h-2zM920 252h1v1h-1zM114 253h1v1h-1zM219 253h1v1h-1zM588 253h3v1h-3zM799 253h2v1h-2zM921 253h2v1h-2zM114 254h1v1h-1zM218 254h1v1h-1zM591 254h2v1h-2zM794 254h5v1h-5zM923 254h2v1h-2zM115 255h1v1h-1zM216 255h2v1h-2zM593 255h3v1h-3zM789 255h5v1h-5zM925 255h1v1h-1zM115 256h1v1h-1zM215 256h1v1h-1zM596 256h2v1h-2zM787 256h2v1h-2zM926 256h2v1h-2zM116 257h1v1h-1zM214 257h1v1h-1zM598 257h2v1h-2zM785 257h2v1h-2zM928 257h1v1h-1zM116 258h1v1h-1zM213 258h1v1h-1zM600 258h2v1h-2zM783 258h2v1h-2zM929 258h2v1h-2zM117 259h1v1h-1zM212 259h1v1h-1zM602 259h2v1h-2zM780 259h3v1h-3zM931 259h2v1h-2zM118 260h1v1h-1zM211 260h1v1h-1zM604 260h2v1h-2zM776 260h4v1h-4zM933 260h1v1h-1zM119 261h1v1h-1zM210 261h1v1h-1zM606 261h2v1h-2zM772 261h4v1h-4zM934 261h2v1h-2zM119 262h1v1h-1zM208 262h2v1h-2zM608 262h1v1h-1zM770 262h2v1h-2zM936 262h1v1h-1zM120 263h1v1h-1zM207 263h1v1h-1zM609 263h2v1h-2zM767 263h3v1h-3zM937 263h2v1h-2zM121 264h1v1h-1zM206 264h1v1h-1zM611 264h2v1h-2zM762 264h5v1h-5zM939 264h2v1h-2zM122 265h1v1h-1zM205 265h1v1h-1zM613 265h1v1h-1zM756 265h6v1h-6zM941 265h1v1h-1zM123 266h1v1h-1zM204 266h1v1h-1zM614 266h2v1h-2zM752 266h4v1h-4zM942 266h1v1h-1zM123 267h1v1h-1zM203 267h1v1h-1zM616 267h2v1h-2zM748 267h4v1h-4zM943 267h1v1h-1zM124 268h1v1h-1zM202 268h1v1h-1zM618 268h2v1h-2zM744 268h4v1h-4zM944 268h1v1h-1zM125 269h1v1h-1zM200 269h2v1h-2zM620 269h5v1h-5zM740 269h4v1h-4zM945 269h1v1h-1zM126 270h2v1h-2zM199 270h1v1h-1zM625 270h8v1h-8zM738 270h2v1h-2zM946 270h1v1h-1zM128 271h1v1h-1zM198 271h1v1h-1zM633 271h6v1h-6zM735 271h3v1h-3zM947 271h1v1h-1zM129 272h2v1h-2zM197 272h1v1h-1zM639 272h4v1h-4zM732 272h3v1h-3zM948 272h1v1h-1zM131 273h2v1h-2zM195 273h2v1h-2zM643 273h3v1h-3zM728 273h4v1h-4zM949 273h1v1h-1zM133 274h1v1h-1zM193 274h2v1h-2zM646 274h2v1h-2zM725 274h3v1h-3zM950 274h1v1h-1zM134 275h2v1h-2zM191 275h2v1h-2zM648 275h2v1h-2zM723 275h2v1h-2zM951 275h1v1h-1zM136 276h2v1h-2zM189 276h2v1h-2zM650 276h2v1h-2zM721 276h2v1h-2zM952 276h1v1h-1zM138 277h2v1h-2zM187 277h2v1h-2zM652 277h2v1h-2zM719 277h2v1h-2zM953 277h1v1h-1zM140 278h2v1h-2zM186 278h1v1h-1zM654 278h2v1h-2zM717 278h2v1h-2zM953 278h1v1h-1zM142 279h2v1h-2zM184 279h2v1h-2zM656 279h2v1h-2zM715 279h2v1h-2zM954 279h1v1h-1zM144 280h2v1h-2zM182 280h2v1h-2zM658 280h2v1h-2zM713 280h2v1h-2zM955 280h1v1h-1zM146 281h2v1h-2zM178 281h4v1h-4zM660 281h2v1h-2zM711 281h2v1h-2zM956 281h1v1h-1zM148 282h30v1h-30zM662 282h2v1h-2zM706 282h5v1h-5zM957 282h1v1h-1zM664 283h2v1h-2zM684 283h22v1h-22zM958 283h1v1h-1zM666 284h2v1h-2zM680 284h4v1h-4zM959 284h1v1h-1zM668 285h12v1h-12zM960 285h1v1h-1zM961 286h2v1h-2zM963 287h1v1h-1zM964 288h1v1h-1zM965 289h1v1h-1zM966 290h1v1h-1zM967 291h1v1h-1zM967 292h1v1h-1zM968 293h1v1h-1zM969 294h1v1h-1zM970 295h1v1h-1zM971 296h1v1h-1zM971 297h1v1h-1zM972 298h1v1h-1zM973 299h1v1h-1zM974 300h1v1h-1zM975 301h1v1h-1zM976 302h1v1h-1zM977 303h1v1h-1zM977 304h1v1h-1zM978 305h1v1h-1zM979 306h1v1h-1zM980 307h1v1h-1zM981 308h1v1h-1zM982 309h1v1h-1zM983 310h1v1h-1zM984 311h1v1h-1zM985 312h1v1h-1zM985 313h1v1h-1zM986 314h1v1h-1zM987 315h1v1h-1zM988 316h1v1h-1zM989 317h1v1h-1zM990 318h1v1h-1zM991 319h1v1h-1zM992 320h1v1h-1zM993 321h1v1h-1zM993 322h1v1h-1zM994 323h1v1h-1zM995 324h1v1h-1zM996 325h1v1h-1zM997 326h1v1h-1zM998 327h1v1h-1zM998 328h1v1h-1zM999 329h1v1h-1zM1000 330h1v1h-1zM1000 331h1v1h-1zM1001 332h1v1h-1zM1002 333h1v1h-1zM1002 334h1v1h-1zM1003 335h1v1h-1zM1004 336h1v1h-1zM1004 337h1v1h-1zM1005 338h1v1h-1zM1006 339h1v1h-1zM1007 340h1v1h-1zM1008 341h1v1h-1zM1009 342h1v1h-1zM1009 343h1v1h-1zM1010 344h1v1h-1zM1011 345h1v1h-1zM1012 346h1v1h-1zM1013 347h1v1h-1zM1014 348h1v1h-1zM1014 349h1v1h-1zM1015 350h1v1h-1zM1016 351h1v1h-1zM1017 352h1v1h-1zM1017 353h1v1h-1zM1018 354h1v1h-1zM1019 355h1v1h-1zM1020 356h1v1h-1zM1020 357h1v1h-1zM1021 358h1v1h-1zM1022 359h1v1h-1zM1022 360h1v1h-1zM1023 361h1v1h-1zM1023 362h1v1h-1zM1024 363h1v1h-1zM1025 364h1v1h-1zM1025 365h1v1h-1zM1026 366h1v1h-1zM1027 367h1v1h-1zM1027 368h1v1h-1zM1028 369h1v1h-1zM1028 370h1v1h-1zM1029 371h1v1h-1zM1030 372h1v1h-1zM1030 373h1v1h-1zM1031 374h1v1h-1zM1032 375h1v1h-1zM1032 376h1v1h-1zM1033 377h1v1h-1zM1034 378h1v1h-1zM1034 379h1v1h-1zM1035 380h1v1h-1zM1036 381h1v1h-1zM1036 382h1v1h-1zM1037 383h1v1h-1zM1038 384h1v1h-1zM1039 385h1v1h-1zM1040 386h1v1h-1zM1041 387h2v1h-2zM1043 388h1v1h-1zM1044 389h1v1h-1zM1045 390h1v1h-1zM1046 391h2v1h-2zM1048 392h1v1h-1zM1049 393h2v1h-2zM1051 394h2v1h-2zM1053 395h1v1h-1zM1054 396h1v1h-1zM1055 397h1v1h-1zM1056 398h1v1h-1zM1057 399h2v1h-2zM1059 400h1v1h-1zM1060 401h1v1h-1zM1061 402h1v1h-1zM1062 403h1v1h-1zM1063 404h1v1h-1zM1064 405h1v1h-1zM1065 406h1v1h-1zM1066 407h1v1h-1zM1067 408h1v1h-1zM1068 409h1v1h-1zM1069 410h1v1h-1zM1070 411h1v1h-1zM1071 412h1v1h-1zM1072 413h1v1h-1zM1073 414h1v1h-1zM1074 415h1v1h-1zM1075 416h1v1h-1zM1076 417h1v1h-1zM1077 418h1v1h-1zM1078 419h1v1h-1zM1079 420h2v1h-2zM1081 421h1v1h-1zM1082 422h1v1h-1zM1083 423h2v1h-2zM1085 424h1v1h-1zM1086 425h2v1h-2zM1088 426h2v1h-2zM1090 427h2v1h-2zM1092 428h2v1h-2zM1094 429h2v1h-2zM1096 430h2v1h-2zM1098 431h2v1h-2zM1100 432h2v1h-2zM1102 433h2v1h-2zM1104 434h2v1h-2zM1106 435h2v1h-2zM1108 436h3v1h-3zM1111 437h2v1h-2zM1113 438h3v1h-3zM1116 439h1v1h-1z" fill="#ffff00"/>
<path d="M5 113h1v1h-1zM6 114h1v1h-1zM6 115h1v1h-1zM7 116h1v1h-1zM7 117h1v1h-1zM8 118h1v1h-1zM8 119h1v1h-1zM9 120h1v1h-1zM9 121h1v1h-1zM10 122h1v1h-1zM10 123h1v1h-1zM11 124h1v1h-1zM11 125h1v1h-1zM12 126h1v1h-1zM12 127h1v1h-1zM13 128h1v1h-1zM13 129h1v1h-1zM13 130h1v1h-1zM14 131h1v1h-1zM14 132h1v1h-1zM15 133h1v1h-1zM15 134h1v1h-1zM16 135h1v1h-1zM16 136h1v1h-1zM17 137h1v1h-1zM17 138h1v1h-1zM18 139h1v1h-1zM18 140h1v1h-1zM19 141h1v1h-1zM19 142h1v1h-1zM20 143h1v1h-1zM20 144h1v1h-1zM21 145h1v1h-1zM21 146h1v1h-1zM22 147h1v1h-1zM22 148h1v1h-1zM23 149h1v1h-1zM23 150h1v1h-1zM24 151h1v1h-1zM24 152h1v1h-1zM25 153h1v1h-1zM25 154h1v1h-1zM26 155h1v1h-1zM26 156h1v1h-1zM27 157h1v1h-1zM27 158h1v1h-1zM28 159h1v1h-1zM28 160h1v1h-1zM29 161h1v1h-1zM29 162h1v1h-1zM30 163h1v1h-1zM30 164h1v1h-1zM349 164h1v1h-1zM31 165h1v1h-1zM347 165h2v1h-2zM350 165h2v1h-2zM31 166h1v1h-1zM346 166h1v1h-1zM352 166h2v1h-2zM32 167h1v1h-1zM344 167h2v1h-2zM354 167h2v1h-2zM32 168h1v1h-1zM342 168h2v1h-2zM356 168h5v1h-5zM33 169h1v1h-1zM341 169h1v1h-1zM361 169h5v1h-5zM33 170h1v1h-1zM339 170h2v1h-2zM366 170h1v1h-1zM34 171h1v1h-1zM337 171h2v1h-2zM367 171h2v1h-2zM34 172h1v1h-1zM335 172h2v1h-2zM369 172h1v1h-1zM35 173h1v1h-1zM333 173h2v1h-2zM370 173h1v1h-1zM380 173h2v1h-2zM35 174h1v1h-1zM331 174h2v1h-2zM371 174h2v1h-2zM376 174h4v1h-4zM382 174h1v1h-1zM36 175h1v1h-1zM329 175h2v1h-2zM373 175h3v1h-3zM383 175h1v1h-1zM36 176h1v1h-1zM327 176h2v1h-2zM384 176h1v1h-1zM37 177h1v1h-1zM325 177h2v1h-2zM385 177h1v1h-1zM38 178h1v1h-1zM324 178h1v1h-1zM385 178h1v1h-1zM38 179h1v1h-1zM322 179h2v1h-2zM386 179h1v1h-1zM39 180h1v1h-1zM321 180h1v1h-1zM387 180h1v1h-1zM39 181h1v1h-1zM244 181h18v1h-18zM320 181h1v1h-1zM388 181h1v1h-1zM40 182h1v1h-1zM242 182h2v1h-2zM262 182h2v1h-2zM318 182h2v1h-2zM389 182h1v1h-1zM40 183h1v1h-1zM239 183h3v1h-3zM264 183h1v1h-1zM317 183h1v1h-1zM390 183h1v1h-1zM41 184h1v1h-1zM237 184h2v1h-2zM265 184h2v1h-2zM315 184h2v1h-2zM391 184h1v1h-1zM41 185h1v1h-1zM236 185h1v1h-1zM267 185h2v1h-2zM314 185h1v1h-1zM392 185h1v1h-1zM42 186h1v1h-1zM234 186h2v1h-2zM269 186h12v1h-12zM312 186h2v1h-2zM393 186h2v1h-2zM42 187h1v1h-1zM233 187h1v1h-1zM281 187h6v1h-6zM310 187h2v1h-2zM395 187h1v1h-1zM43 188h1v1h-1zM233 188h1v1h-1zM287 188h2v1h-2zM309 188h1v1h-1zM396 188h1v1h-1zM43 189h1v1h-1zM232 189h1v1h-1zM289 189h3v1h-3zM307 189h2v1h-2zM397 189h1v1h-1zM44 190h1v1h-1zM232 190h1v1h-1zM292 190h3v1h-3zM305 190h2v1h-2zM398 190h2v1h-2zM44 191h1v1h-1zM231 191h1v1h-1zM295 191h4v1h-4zM303 191h2v1h-2zM400 191h2v1h-2zM45 192h1v1h-1zM231 192h1v1h-1zM299 192h4v1h-4zM402 192h2v1h-2zM45 193h1v1h-1zM230 193h1v1h-1zM404 193h2v1h-2zM46 194h1v1h-1zM230 194h1v1h-1zM406 194h2v1h-2zM46 195h1v1h-1zM229 195h1v1h-1zM408 195h1v1h-1zM47 196h1v1h-1zM229 196h1v1h-1zM409 196h2v1h-2zM47 197h1v1h-1zM228 197h1v1h-1zM411 197h2v1h-2zM48 198h1v1h-1zM228 198h1v1h-1zM413 198h1v1h-1zM48 199h1v1h-1zM227 199h1v1h-1zM414 199h1v1h-1zM49 200h1v1h-1zM227 200h1v1h-1zM415 200h1v1h-1zM49 201h1v1h-1zM227 201h1v1h-1zM416 201h1v1h-1zM50 202h1v1h-1zM226 202h1v1h-1zM417 202h1v1h-1zM50 203h1v1h-1zM226 203h1v1h-1zM417 203h1v1h-1zM51 204h1v1h-1zM225 204h1v1h-1zM418 204h1v1h-1zM51 205h1v1h-1zM225 205h1v1h-1zM419 205h1v1h-1zM52 206h1v1h-1zM225 206h1v1h-1zM420 206h1v1h-1zM52 207h1v1h-1zM224 207h1v1h-1zM421 207h1v1h-1zM53 208h1v1h-1zM224 208h1v1h-1zM422 208h1v1h-1zM54 209h1v1h-1zM223 209h1v1h-1zM423 209h1v1h-1zM55 210h1v1h-1zM223 210h1v1h-1zM424 210h1v1h-1zM55 211h1v1h-1zM223 211h1v1h-1zM425 211h1v1h-1zM56 212h1v1h-1zM222 212h1v1h-1zM425 212h1v1h-1zM57 213h1v1h-1zM222 213h1v1h-1zM426 213h1v1h-1zM58 214h1v1h-1zM221 214h1v1h-1zM427 214h1v1h-1zM858 214h7v1h-7zM59 215h1v1h-1zM221 215h1v1h-1zM428 215h1v1h-1zM852 215h6v1h-6zM865 215h5v1h-5zM59 216h1v1h-1zM220 216h1v1h-1zM429 216h1v1h-1zM850 216h2v1h-2zM870 216h2v1h-2zM60 217h1v1h-1zM220 217h1v1h-1zM430 217h1v1h-1zM847 217h3v1h-3zM872 217h1v1h-1zM61 218h1v1h-1zM219 218h1v1h-1zM431 218h1v1h-1zM845 218h2v1h-2zM873 218h2v1h-2zM62 219h1v1h-1zM218 219h1v1h-1zM432 219h1v1h-1zM501 219h12v1h-12zM844 219h1v1h-1zM875 219h2v1h-2zM63 220h1v1h-1zM217 220h1v1h-1zM433 220h1v1h-1zM500 220h1v1h-1zM513 220h8v1h-8zM842 220h2v1h-2zM877 220h1v1h-1zM63 221h1v1h-1zM217 221h1v1h-1zM433 221h1v1h-1zM498 221h2v1h-2zM521 221h6v1h-6zM841 221h1v1h-1zM878 221h1v1h-1zM64 222h1v1h-1zM216 222h1v1h-1zM434 222h1v1h-1zM497 222h1v1h-1zM527 222h2v1h-2zM840 222h1v1h-1zM879 222h1v1h-1zM65 223h1v1h-1zM215 223h1v1h-1zM435 223h1v1h-1zM496 223h1v1h-1zM529 223h3v1h-3zM838 223h2v1h-2zM880 223h1v1h-1zM66 224h1v1h-1zM214 224h1v1h-1zM436 224h1v1h-1zM494 224h2v1h-2zM532 224h2v1h-2zM837 224h1v1h-1zM881 224h1v1h-1zM67 225h1v1h-1zM214 225h1v1h-1zM437 225h1v1h-1zM493 225h1v1h-1zM534 225h2v1h-2zM836 225h1v1h-1zM881 225h1v1h-1zM67 226h1v1h-1zM213 226h1v1h-1zM438 226h1v1h-1zM492 226h1v1h-1zM536 226h2v1h-2zM834 226h2v1h-2zM882 226h1v1h-1zM68 227h1v1h-1zM212 227h1v1h-1zM439 227h2v1h-2zM491 227h1v1h-1zM538 227h2v1h-2zM833 227h1v1h-1zM883 227h1v1h-1zM69 228h1v1h-1zM211 228h1v1h-1zM441 228h1v1h-1zM490 228h1v1h-1zM540 228h2v1h-2zM832 228h1v1h-1zM884 228h1v1h-1zM70 229h1v1h-1zM211 229h1v1h-1zM442 229h1v1h-1zM489 229h1v1h-1zM542 229h1v1h-1zM830 229h2v1h-2zM885 229h1v1h-1zM70 230h1v1h-1zM210 230h1v1h-1zM443 230h2v1h-2zM488 230h1v1h-1zM543 230h1v1h-1zM829 230h1v1h-1zM886 230h1v1h-1zM71 231h1v1h-1zM209 231h1v1h-1zM445 231h1v1h-1zM487 231h1v1h-1zM544 231h1v1h-1zM827 231h2v1h-2zM887 231h1v1h-1zM71 232h1v1h-1zM208 232h1v1h-1zM446 232h2v1h-2zM486 232h1v1h-1zM545 232h1v1h-1zM825 232h2v1h-2zM888 232h1v1h-1zM72 233h1v1h-1zM207 233h1v1h-1zM448 233h1v1h-1zM485 233h1v1h-1zM545 233h1v1h-1zM823 233h2v1h-2zM889 233h2v1h-2zM72 234h1v1h-1zM207 234h1v1h-1zM449 234h2v1h-2zM484 234h1v1h-1zM546 234h1v1h-1zM821 234h2v1h-2zM891 234h1v1h-1zM73 235h1v1h-1zM206 235h1v1h-1zM451 235h2v1h-2zM482 235h2v1h-2zM547 235h1v1h-1zM819 235h2v1h-2zM892 235h1v1h-1zM74 236h1v1h-1zM205 236h1v1h-1zM453 236h1v1h-1zM481 236h1v1h-1zM548 236h1v1h-1zM818 236h1v1h-1zM893 236h1v1h-1zM74 237h1v1h-1zM204 237h1v1h-1zM454 237h1v1h-1zM480 237h1v1h-1zM549 237h1v1h-1zM816 237h2v1h-2zM894 237h1v1h-1zM75 238h1v1h-1zM203 238h1v1h-1zM455 238h1v1h-1zM478 238h2v1h-2zM550 238h1v1h-1zM814 238h2v1h-2zM895 238h1v1h-1zM75 239h1v1h-1zM203 239h1v1h-1zM456 239h1v1h-1zM477 239h1v1h-1zM551 239h1v1h-1zM813 239h1v1h-1zM895 239h1v1h-1zM76 240h1v1h-1zM202 240h1v1h-1zM457 240h1v1h-1zM475 240h2v1h-2zM551 240h1v1h-1zM812 240h1v1h-1zM896 240h1v1h-1zM76 241h1v1h-1zM201 241h1v1h-1zM457 241h1v1h-1zM474 241h1v1h-1zM552 241h1v1h-1zM810 241h2v1h-2zM897 241h1v1h-1zM77 242h1v1h-1zM200 242h1v1h-1zM458 242h1v1h-1zM472 242h2v1h-2zM553 242h1v1h-1zM809 242h1v1h-1zM898 242h1v1h-1zM78 243h1v1h-1zM199 243h1v1h-1zM459 243h1v1h-1zM470 243h2v1h-2zM554 243h1v1h-1zM808 243h1v1h-1zM899 243h1v1h-1zM78 244h1v1h-1zM199 244h1v1h-1zM460 244h1v1h-1zM466 244h4v1h-4zM555 244h1v1h-1zM806 244h2v1h-2zM899 244h1v1h-1zM79 245h1v1h-1zM198 245h1v1h-1zM461 245h5v1h-5zM555 245h1v1h-1zM805 245h1v1h-1zM900 245h1v1h-1zM79 246h1v1h-1zM197 246h1v1h-1zM556 246h1v1h-1zM804 246h1v1h-1zM901 246h1v1h-1zM80 247h1v1h-1zM196 247h1v1h-1zM557 247h1v1h-1zM803 247h1v1h-1zM902 247h2v1h-2zM81 248h1v1h-1zM196 248h1v1h-1zM558 248h1v1h-1zM802 248h1v1h-1zM904 248h1v1h-1zM81 249h1v1h-1zM195 249h1v1h-1zM559 249h1v1h-1zM801 249h1v1h-1zM905 249h2v1h-2zM82 250h1v1h-1zM194 250h1v1h-1zM559 250h1v1h-1zM800 250h1v1h-1zM907 250h2v1h-2zM83 251h1v1h-1zM194 251h1v1h-1zM560 251h1v1h-1zM799 251h1v1h-1zM909 251h1v1h-1zM83 252h1v1h-1zM193 252h1v1h-1zM561 252h1v1h-1zM789 252h4v1h-4zM798 252h1v1h-1zM910 252h1v1h-1zM84 253h1v1h-1zM192 253h1v1h-1zM562 253h1v1h-1zM787 253h2v1h-2zM793 253h5v1h-5zM911 253h1v1h-1zM84 254h1v1h-1zM192 254h1v1h-1zM563 254h1v1h-1zM785 254h2v1h-2zM912 254h1v1h-1zM85 255h1v1h-1zM191 255h1v1h-1zM563 255h1v1h-1zM783 255h2v1h-2zM913 255h1v1h-1zM86 256h1v1h-1zM190 256h1v1h-1zM564 256h1v1h-1zM781 256h2v1h-2zM913 256h1v1h-1zM86 257h1v1h-1zM190 257h1v1h-1zM565 257h1v1h-1zM779 257h2v1h-2zM914 257h1v1h-1zM87 258h1v1h-1zM189 258h1v1h-1zM566 258h2v1h-2zM778 258h1v1h-1zM915 258h1v1h-1zM87 259h1v1h-1zM188 259h1v1h-1zM568 259h1v1h-1zM776 259h2v1h-2zM916 259h1v1h-1zM88 260h1v1h-1zM188 260h1v1h-1zM569 260h2v1h-2zM748 260h5v1h-5zM774 260h2v1h-2zM917 260h1v1h-1zM88 261h1v1h-1zM187 261h1v1h-1zM571 261h2v1h-2zM722 261h5v1h-5zM744 261h4v1h-4zM753 261h6v1h-6zM772 261h2v1h-2zM918 261h1v1h-1zM89 262h1v1h-1zM187 262h1v1h-1zM573 262h1v1h-1zM716 262h6v1h-6zM727 262h4v1h-4zM738 262h6v1h-6zM759 262h4v1h-4zM768 262h4v1h-4zM918 262h1v1h-1zM90 263h1v1h-1zM186 263h1v1h-1zM574 263h1v1h-1zM714 263h2v1h-2zM731 263h7v1h-7zM763 263h5v1h-5zM919 263h1v1h-1zM90 264h1v1h-1zM185 264h1v1h-1zM575 264h2v1h-2zM711 264h3v1h-3zM920 264h1v1h-1zM91 265h1v1h-1zM185 265h1v1h-1zM577 265h1v1h-1zM708 265h3v1h-3zM921 265h1v1h-1zM91 266h1v1h-1zM184 266h1v1h-1zM578 266h1v1h-1zM704 266h4v1h-4zM921 266h1v1h-1zM92 267h1v1h-1zM183 267h1v1h-1zM579 267h2v1h-2zM700 267h4v1h-4zM922 267h1v1h-1zM92 268h1v1h-1zM183 268h1v1h-1zM581 268h1v1h-1zM696 268h4v1h-4zM923 268h1v1h-1zM93 269h1v1h-1zM182 269h1v1h-1zM582 269h1v1h-1zM690 269h6v1h-6zM924 269h1v1h-1zM94 270h1v1h-1zM182 270h1v1h-1zM583 270h1v1h-1zM685 270h5v1h-5zM924 270h1v1h-1zM95 271h1v1h-1zM181 271h1v1h-1zM584 271h1v1h-1zM684 271h1v1h-1zM925 271h1v1h-1zM95 272h1v1h-1zM180 272h1v1h-1zM585 272h2v1h-2zM683 272h1v1h-1zM926 272h1v1h-1zM96 273h1v1h-1zM180 273h1v1h-1zM587 273h1v1h-1zM682 273h1v1h-1zM926 273h1v1h-1zM97 274h1v1h-1zM179 274h1v1h-1zM588 274h1v1h-1zM681 274h1v1h-1zM927 274h1v1h-1zM98 275h1v1h-1zM178 275h1v1h-1zM589 275h1v1h-1zM680 275h1v1h-1zM927 275h1v1h-1zM99 276h1v1h-1zM178 276h1v1h-1zM590 276h2v1h-2zM679 276h1v1h-1zM928 276h1v1h-1zM99 277h1v1h-1zM177 277h1v1h-1zM592 277h1v1h-1zM678 277h1v1h-1zM928 277h1v1h-1zM100 278h1v1h-1zM176 278h1v1h-1zM593 278h2v1h-2zM677 278h1v1h-1zM929 278h1v1h-1zM101 279h1v1h-1zM176 279h1v1h-1zM595 279h2v1h-2zM675 279h2v1h-2zM930 279h1v1h-1zM102 280h1v1h-1zM175 280h1v1h-1zM597 280h1v1h-1zM674 280h1v1h-1zM930 280h1v1h-1zM103 281h1v1h-1zM174 281h1v1h-1zM598 281h1v1h-1zM672 281h2v1h-2zM931 281h1v1h-1zM104 282h1v1h-1zM174 282h1v1h-1zM599 282h1v1h-1zM670 282h2v1h-2zM931 282h1v1h-1zM105 283h1v1h-1zM173 283h1v1h-1zM599 283h1v1h-1zM669 283h1v1h-1zM932 283h1v1h-1zM105 284h1v1h-1zM172 284h1v1h-1zM600 284h1v1h-1zM667 284h2v1h-2zM932 284h1v1h-1zM106 285h1v1h-1zM171 285h1v1h-1zM601 285h1v1h-1zM665 285h2v1h-2zM933 285h1v1h-1zM107 286h1v1h-1zM171 286h1v1h-1zM602 286h1v1h-1zM663 286h2v1h-2zM934 286h1v1h-1zM108 287h1v1h-1zM170 287h1v1h-1zM603 287h1v1h-1zM661 287h2v1h-2zM934 287h1v1h-1zM109 288h1v1h-1zM169 288h1v1h-1zM603 288h1v1h-1zM659 288h2v1h-2zM935 288h1v1h-1zM109 289h1v1h-1zM168 289h1v1h-1zM604 289h1v1h-1zM657 289h2v1h-2zM935 289h1v1h-1zM110 290h1v1h-1zM167 290h1v1h-1zM605 290h1v1h-1zM655 290h2v1h-2zM936 290h1v1h-1zM110 291h1v1h-1zM167 291h1v1h-1zM606 291h1v1h-1zM650 291h5v1h-5zM937 291h1v1h-1zM111 292h1v1h-1zM166 292h1v1h-1zM607 292h1v1h-1zM645 292h5v1h-5zM937 292h1v1h-1zM111 293h1v1h-1zM165 293h1v1h-1zM608 293h1v1h-1zM643 293h2v1h-2zM938 293h1v1h-1zM112 294h1v1h-1zM164 294h1v1h-1zM609 294h2v1h-2zM641 294h2v1h-2zM939 294h1v1h-1zM112 295h1v1h-1zM163 295h1v1h-1zM611 295h1v1h-1zM628 295h5v1h-5zM639 295h2v1h-2zM939 295h1v1h-1zM113 296h1v1h-1zM163 296h1v1h-1zM612 296h1v1h-1zM624 296h4v1h-4zM633 296h6v1h-6zM940 296h1v1h-1zM113 297h1v1h-1zM162 297h1v1h-1zM613 297h11v1h-11zM940 297h1v1h-1zM114 298h1v1h-1zM161 298h1v1h-1zM941 298h1v1h-1zM114 299h1v1h-1zM160 299h1v1h-1zM942 299h1v1h-1zM115 300h1v1h-1zM159 300h1v1h-1zM942 300h1v1h-1zM115 301h1v1h-1zM159 301h1v1h-1zM943 301h1v1h-1zM116 302h1v1h-1zM158 302h1v1h-1zM943 302h1v1h-1zM116 303h1v1h-1zM157 303h1v1h-1zM944 303h1v1h-1zM117 304h1v1h-1zM156 304h1v1h-1zM944 304h1v1h-1zM117 305h1v1h-1zM155 305h1v1h-1zM945 305h1v1h-1zM117 306h1v1h-1zM155 306h1v1h-1zM946 306h1v1h-1zM118 307h1v1h-1zM154 307h1v1h-1zM946 307h1v1h-1zM118 308h1v1h-1zM153 308h1v1h-1zM947 308h1v1h-1zM119 309h1v1h-1zM152 309h1v1h-1zM947 309h1v1h-1zM119 310h1v1h-1zM151 310h1v1h-1zM948 310h1v1h-1zM120 311h1v1h-1zM151 311h1v1h-1zM948 311h1v1h-1zM120 312h1v1h-1zM150 312h1v1h-1zM949 312h1v1h-1zM121 313h1v1h-1zM149 313h1v1h-1zM950 313h1v1h-1zM121 314h1v1h-1zM148 314h1v1h-1zM950 314h1v1h-1zM122 315h1v1h-1zM147 315h1v1h-1zM951 315h1v1h-1zM122 316h1v1h-1zM146 316h1v1h-1zM951 316h1v1h-1zM123 317h1v1h-1zM145 317h1v1h-1zM952 317h1v1h-1zM123 318h1v1h-1zM145 318h1v1h-1zM953 318h1v1h-1zM124 319h1v1h-1zM144 319h1v1h-1zM953 319h1v1h-1zM124 320h1v1h-1zM143 320h1v1h-1zM954 320h1v1h-1zM125 321h1v1h-1zM142 321h1v1h-1zM955 321h1v1h-1zM125 322h17v1h-17zM955 322h1v1h-1zM956 323h1v1h-1zM956 324h1v1h-1zM957 325h1v1h-1zM958 326h1v1h-1zM959 327h1v1h-1zM959 328h1v1h-1zM960 329h1v1h-1zM961 330h1v1h-1zM962 331h1v1h-1zM963 332h1v1h-1zM963 333h1v1h-1zM964 334h1v1h-1zM965 335h1v1h-1zM966 336h1v1h-1zM967 337h1v1h-1zM967 338h1v1h-1zM968 339h1v1h-1zM969 340h1v1h-1zM970 341h1v1h-1zM971 342h1v1h-1zM971 343h1v1h-1zM972 344h1v1h-1zM973 345h1v1h-1zM974 346h1v1h-1zM975 347h1v1h-1zM975 348h1v1h-1zM976 349h1v1h-1zM977 350h1v1h-1zM978 351h1v1h-1zM979 352h1v1h-1zM979 353h1v1h-1zM980 354h1v1h-1zM981 355h4v1h-4zM985 356h6v1h-6zM991 357h2v1h-2zM993 358h3v1h-3zM996 359h2v1h-2zM998 360h1v1h-1zM999 361h1v1h-1zM1000 362h1v1h-1zM1001 363h2v1h-2zM1003 364h1v1h-1zM1004 365h1v1h-1zM1005 366h1v1h-1zM1006 367h1v1h-1zM1007 368h1v1h-1zM1008 369h1v1h-1zM1009 370h1v1h-1zM1010 371h1v1h-1zM1011 372h1v1h-1zM1012 373h1v1h-1zM1013 374h1v1h-1zM1014 375h1v1h-1zM1015 376h1v1h-1zM1015 377h1v1h-1zM1016 378h1v1h-1zM1017 379h1v1h-1zM1018 380h1v1h-1zM1019 381h1v1h-1zM1019 382h1v1h-1zM1020 383h1v1h-1zM1021 384h1v1h-1zM1022 385h1v1h-1zM1022 386h1v1h-1zM1023 387h1v1h-1zM1024 388h1v1h-1zM1024 389h1v1h-1zM1025 390h1v1h-1zM1026 391h1v1h-1zM1026 392h1v1h-1zM1027 393h1v1h-1zM1028 394h1v1h-1zM1028 395h1v1h-1zM1029 396h1v1h-1zM1030 397h1v1h-1zM1030 398h1v1h-1zM1031 399h1v1h-1zM1032 400h1v1h-1zM1032 401h1v1h-1zM1033 402h1v1h-1zM1034 403h1v1h-1zM1034 404h1v1h-1zM1035 405h1v1h-1zM1036 406h1v1h-1zM1036 407h1v1h-1zM1037 408h1v1h-1zM1038 409h1v1h-1zM1039 410h1v1h-1zM1040 411h1v1h-1zM1041 412h2v1h-2zM1043 413h1v1h-1zM1044 414h1v1h-1zM1045 415h1v1h-1zM1046 416h1v1h-1zM1047 417h1v1h-1zM1048 418h1v1h-1zM1049 419h2v1h-2zM1051 420h1v1h-1zM1052 421h1v1h-1zM1053 422h1v1h-1zM1054 423h1v1h-1zM1055 424h1v1h-1zM1056 425h1v1h-1zM1057 426h2v1h-2zM1059 427h1v1h-1zM1060 428h1v1h-1zM1061 429h1v1h-1zM1062 430h1v1h-1zM1063 431h1v1h-1zM1064 432h1v1h-1zM1065 433h1v1h-1zM1065 434h1v1h-1zM1066 435h1v1h-1zM1067 436h1v1h-1zM1068 437h1v1h-1zM1069 438h1v1h-1zM1070 439h1v1h-1zM1071 440h1v1h-1zM1072 441h1v1h-1zM1073 442h1v1h-1zM1074 443h1v1h-1zM1075 444h1v1h-1zM1076 445h1v1h-1zM1077 446h1v1h-1zM1078 447h2v1h-2zM1080 448h2v1h-2zM1082 449h2v1h-2zM1084 450h2v1h-2zM1086 451h2v1h-2zM1088 452h1v1h-1zM1089 453h2v1h-2zM1091 454h2v1h-2zM1093 455h1v1h-1zM1094 456h2v1h-2zM1096 457h1v1h-1zM1097 458h2v1h-2zM1099 459h2v1h-2zM1101 460h1v1h-1zM1102 461h2v1h-2zM1104 462h1v1h-1zM1105 463h2v1h-2zM1107 464h2v1h-2zM1109 465h2v1h-2zM1111 466h4v1h-4zM1115 467h2v1h-2z" fill="#ff0000"/>
<path d="M349 118h1v1h-1zM348 119h1v1h-1zM350 119h1v1h-1zM348 120h1v1h-1zM351 120h1v1h-1zM347 121h1v1h-1zM352 121h1v1h-1zM346 122h1v1h-1zM353 122h2v1h-2zM346 123h1v1h-1zM355 123h1v1h-1zM345 124h1v1h-1zM356 124h1v1h-1zM344 125h1v1h-1zM357 125h1v1h-1zM344 126h1v1h-1zM357 126h1v1h-1zM343 127h1v1h-1zM358 127h1v1h-1zM342 128h1v1h-1zM358 128h1v1h-1zM342 129h1v1h-1zM358 129h1v1h-1zM341 130h1v1h-1zM359 130h1v1h-1zM339 131h2v1h-2zM359 131h1v1h-1zM338 132h1v1h-1zM359 132h1v1h-1zM336 133h2v1h-2zM360 133h1v1h-1zM334 134h2v1h-2zM360 134h1v1h-1zM333 135h1v1h-1zM360 135h1v1h-1zM332 136h1v1h-1zM361 136h1v1h-1zM331 137h1v1h-1zM361 137h1v1h-1zM331 138h1v1h-1zM361 138h1v1h-1zM330 139h1v1h-1zM361 139h1v1h-1zM329 140h1v1h-1zM362 140h1v1h-1zM328 141h1v1h-1zM362 141h1v1h-1zM327 142h1v1h-1zM362 142h1v1h-1zM327 143h1v1h-1zM363 143h1v1h-1zM326 144h1v1h-1zM363 144h1v1h-1zM325 145h1v1h-1zM363 145h1v1h-1zM325 146h1v1h-1zM364 146h1v1h-1zM324 147h1v1h-1zM364 147h1v1h-1zM324 148h1v1h-1zM364 148h1v1h-1zM323 149h1v1h-1zM365 149h1v1h-1zM323 150h1v1h-1zM365 150h1v1h-1zM323 151h1v1h-1zM365 151h1v1h-1zM322 152h1v1h-1zM366 152h1v1h-1zM322 153h1v1h-1zM366 153h1v1h-1zM321 154h1v1h-1zM366 154h1v1h-1zM321 155h1v1h-1zM367 155h1v1h-1zM321 156h1v1h-1zM367 156h1v1h-1zM320 157h1v1h-1zM367 157h1v1h-1zM320 158h1v1h-1zM367 158h1v1h-1zM5 159h9v1h-9zM319 159h1v1h-1zM368 159h1v1h-1zM14 160h1v1h-1zM220 160h3v1h-3zM319 160h1v1h-1zM368 160h1v1h-1zM14 161h1v1h-1zM218 161h2v1h-2zM223 161h2v1h-2zM319 161h1v1h-1zM368 161h1v1h-1zM15 162h1v1h-1zM215 162h3v1h-3zM225 162h3v1h-3zM318 162h1v1h-1zM369 162h1v1h-1zM15 163h1v1h-1zM210 163h5v1h-5zM228 163h2v1h-2zM318 163h1v1h-1zM369 163h1v1h-1zM16 164h1v1h-1zM205 164h5v1h-5zM230 164h1v1h-1zM317 164h1v1h-1zM369 164h1v1h-1zM16 165h1v1h-1zM204 165h1v1h-1zM231 165h1v1h-1zM317 165h1v1h-1zM370 165h1v1h-1zM17 166h1v1h-1zM204 166h1v1h-1zM232 166h1v1h-1zM317 166h1v1h-1zM370 166h1v1h-1zM17 167h1v1h-1zM203 167h1v1h-1zM233 167h2v1h-2zM316 167h1v1h-1zM370 167h1v1h-1zM18 168h1v1h-1zM202 168h1v1h-1zM235 168h1v1h-1zM316 168h1v1h-1zM371 168h1v1h-1zM18 169h1v1h-1zM202 169h1v1h-1zM236 169h1v1h-1zM316 169h1v1h-1zM371 169h1v1h-1zM19 170h1v1h-1zM201 170h1v1h-1zM237 170h1v1h-1zM315 170h1v1h-1zM371 170h1v1h-1zM19 171h1v1h-1zM200 171h1v1h-1zM238 171h1v1h-1zM315 171h1v1h-1zM371 171h1v1h-1zM20 172h1v1h-1zM200 172h1v1h-1zM239 172h2v1h-2zM315 172h1v1h-1zM372 172h1v1h-1zM20 173h1v1h-1zM199 173h1v1h-1zM241 173h1v1h-1zM314 173h1v1h-1zM372 173h1v1h-1zM21 174h1v1h-1zM198 174h1v1h-1zM242 174h1v1h-1zM314 174h1v1h-1zM372 174h1v1h-1zM21 175h1v1h-1zM198 175h1v1h-1zM243 175h2v1h-2zM314 175h1v1h-1zM373 175h1v1h-1zM21 176h1v1h-1zM197 176h1v1h-1zM245 176h1v1h-1zM313 176h1v1h-1zM373 176h1v1h-1zM22 177h1v1h-1zM196 177h1v1h-1zM246 177h1v1h-1zM313 177h1v1h-1zM373 177h1v1h-1zM22 178h1v1h-1zM195 178h1v1h-1zM246 178h1v1h-1zM312 178h1v1h-1zM374 178h1v1h-1zM23 179h1v1h-1zM195 179h1v1h-1zM247 179h1v1h-1zM312 179h1v1h-1zM374 179h1v1h-1zM23 180h1v1h-1zM194 180h1v1h-1zM248 180h1v1h-1zM312 180h1v1h-1zM374 180h1v1h-1zM24 181h1v1h-1zM193 181h1v1h-1zM248 181h1v1h-1zM311 181h1v1h-1zM375 181h1v1h-1zM24 182h1v1h-1zM192 182h1v1h-1zM249 182h1v1h-1zM311 182h1v1h-1zM375 182h1v1h-1zM25 183h1v1h-1zM191 183h1v1h-1zM250 183h1v1h-1zM311 183h1v1h-1zM375 183h1v1h-1zM25 184h1v1h-1zM191 184h1v1h-1zM250 184h1v1h-1zM310 184h1v1h-1zM376 184h1v1h-1zM26 185h1v1h-1zM190 185h1v1h-1zM251 185h1v1h-1zM310 185h1v1h-1zM376 185h1v1h-1zM26 186h1v1h-1zM189 186h1v1h-1zM252 186h1v1h-1zM310 186h1v1h-1zM376 186h1v1h-1zM27 187h1v1h-1zM188 187h1v1h-1zM252 187h1v1h-1zM309 187h1v1h-1zM377 187h1v1h-1zM27 188h1v1h-1zM188 188h1v1h-1zM253 188h1v1h-1zM309 188h1v1h-1zM377 188h1v1h-1zM28 189h1v1h-1zM187 189h1v1h-1zM254 189h1v1h-1zM309 189h1v1h-1zM377 189h1v1h-1zM28 190h1v1h-1zM186 190h1v1h-1zM254 190h1v1h-1zM308 190h1v1h-1zM377 190h1v1h-1zM29 191h1v1h-1zM186 191h1v1h-1zM255 191h1v1h-1zM308 191h1v1h-1zM378 191h1v1h-1zM29 192h1v1h-1zM185 192h1v1h-1zM256 192h1v1h-1zM308 192h1v1h-1zM378 192h1v1h-1zM29 193h1v1h-1zM184 193h1v1h-1zM256 193h1v1h-1zM307 193h1v1h-1zM378 193h1v1h-1zM853 193h1v1h-1zM30 194h1v1h-1zM184 194h1v1h-1zM257 194h1v1h-1zM307 194h1v1h-1zM379 194h1v1h-1zM837 194h2v1h-2zM851 194h2v1h-2zM854 194h1v1h-1zM30 195h1v1h-1zM183 195h1v1h-1zM258 195h1v1h-1zM306 195h1v1h-1zM379 195h1v1h-1zM836 195h1v1h-1zM839 195h2v1h-2zM849 195h2v1h-2zM855 195h2v1h-2zM30 196h1v1h-1zM183 196h1v1h-1zM258 196h1v1h-1zM306 196h1v1h-1zM379 196h1v1h-1zM835 196h1v1h-1zM841 196h3v1h-3zM847 196h2v1h-2zM857 196h1v1h-1zM31 197h1v1h-1zM182 197h1v1h-1zM259 197h1v1h-1zM306 197h1v1h-1zM380 197h1v1h-1zM834 197h1v1h-1zM844 197h3v1h-3zM858 197h1v1h-1zM31 198h1v1h-1zM182 198h1v1h-1zM260 198h1v1h-1zM305 198h1v1h-1zM380 198h1v1h-1zM832 198h2v1h-2zM859 198h2v1h-2zM31 199h1v1h-1zM181 199h1v1h-1zM260 199h1v1h-1zM305 199h1v1h-1zM380 199h1v1h-1zM831 199h1v1h-1zM861 199h1v1h-1zM32 200h1v1h-1zM181 200h1v1h-1zM261 200h1v1h-1zM305 200h1v1h-1zM381 200h1v1h-1zM830 200h1v1h-1zM862 200h1v1h-1zM32 201h1v1h-1zM181 201h1v1h-1zM262 201h1v1h-1zM304 201h1v1h-1zM381 201h1v1h-1zM493 201h2v1h-2zM829 201h1v1h-1zM862 201h1v1h-1zM32 202h1v1h-1zM180 202h1v1h-1zM263 202h1v1h-1zM304 202h1v1h-1zM381 202h1v1h-1zM492 202h1v1h-1zM495 202h2v1h-2zM828 202h1v1h-1zM863 202h1v1h-1zM33 203h1v1h-1zM180 203h1v1h-1zM263 203h1v1h-1zM304 203h1v1h-1zM382 203h1v1h-1zM491 203h1v1h-1zM497 203h3v1h-3zM826 203h2v1h-2zM864 203h1v1h-1zM33 204h1v1h-1zM180 204h1v1h-1zM264 204h1v1h-1zM303 204h1v1h-1zM382 204h1v1h-1zM490 204h1v1h-1zM500 204h2v1h-2zM825 204h1v1h-1zM865 204h1v1h-1zM34 205h1v1h-1zM180 205h1v1h-1zM265 205h1v1h-1zM303 205h1v1h-1zM382 205h1v1h-1zM489 205h1v1h-1zM502 205h1v1h-1zM824 205h1v1h-1zM865 205h1v1h-1zM34 206h1v1h-1zM179 206h1v1h-1zM266 206h1v1h-1zM302 206h1v1h-1zM382 206h1v1h-1zM488 206h1v1h-1zM502 206h1v1h-1zM822 206h2v1h-2zM866 206h1v1h-1zM34 207h1v1h-1zM179 207h1v1h-1zM267 207h1v1h-1zM302 207h1v1h-1zM383 207h1v1h-1zM487 207h1v1h-1zM503 207h1v1h-1zM821 207h1v1h-1zM867 207h1v1h-1zM35 208h1v1h-1zM179 208h1v1h-1zM267 208h1v1h-1zM302 208h1v1h-1zM383 208h1v1h-1zM486 208h1v1h-1zM504 208h1v1h-1zM820 208h1v1h-1zM868 208h1v1h-1zM35 209h1v1h-1zM179 209h1v1h-1zM268 209h1v1h-1zM301 209h1v1h-1zM383 209h1v1h-1zM485 209h1v1h-1zM505 209h1v1h-1zM819 209h1v1h-1zM868 209h1v1h-1zM35 210h1v1h-1zM178 210h1v1h-1zM269 210h4v1h-4zM282 210h20v1h-20zM384 210h1v1h-1zM483 210h2v1h-2zM505 210h1v1h-1zM819 210h1v1h-1zM869 210h1v1h-1zM36 211h1v1h-1zM178 211h1v1h-1zM273 211h9v1h-9zM384 211h1v1h-1zM482 211h1v1h-1zM506 211h1v1h-1zM818 211h1v1h-1zM869 211h1v1h-1zM36 212h1v1h-1zM178 212h1v1h-1zM384 212h1v1h-1zM480 212h2v1h-2zM507 212h1v1h-1zM817 212h1v1h-1zM870 212h1v1h-1zM36 213h1v1h-1zM178 213h1v1h-1zM384 213h1v1h-1zM478 213h2v1h-2zM508 213h1v1h-1zM816 213h1v1h-1zM870 213h1v1h-1zM37 214h1v1h-1zM177 214h1v1h-1zM385 214h1v1h-1zM476 214h2v1h-2zM508 214h1v1h-1zM815 214h1v1h-1zM870 214h1v1h-1zM37 215h1v1h-1zM177 215h1v1h-1zM385 215h1v1h-1zM474 215h2v1h-2zM509 215h1v1h-1zM815 215h1v1h-1zM871 215h1v1h-1zM37 216h1v1h-1zM177 216h1v1h-1zM385 216h1v1h-1zM471 216h3v1h-3zM510 216h2v1h-2zM814 216h1v1h-1zM871 216h1v1h-1zM38 217h1v1h-1zM177 217h1v1h-1zM386 217h1v1h-1zM468 217h3v1h-3zM512 217h2v1h-2zM813 217h1v1h-1zM871 217h1v1h-1zM38 218h1v1h-1zM176 218h1v1h-1zM386 218h1v1h-1zM466 218h2v1h-2zM514 218h2v1h-2zM812 218h1v1h-1zM872 218h1v1h-1zM39 219h1v1h-1zM176 219h1v1h-1zM386 219h1v1h-1zM463 219h3v1h-3zM516 219h2v1h-2zM811 219h1v1h-1zM872 219h1v1h-1zM39 220h1v1h-1zM176 220h1v1h-1zM386 220h1v1h-1zM461 220h2v1h-2zM518 220h2v1h-2zM811 220h1v1h-1zM872 220h1v1h-1zM39 221h1v1h-1zM176 221h1v1h-1zM387 221h1v1h-1zM459 221h2v1h-2zM520 221h1v1h-1zM810 221h1v1h-1zM873 221h1v1h-1zM40 222h1v1h-1zM175 222h1v1h-1zM387 222h1v1h-1zM457 222h2v1h-2zM521 222h2v1h-2zM809 222h1v1h-1zM873 222h1v1h-1zM40 223h1v1h-1zM175 223h1v1h-1zM387 223h1v1h-1zM455 223h2v1h-2zM523 223h2v1h-2zM808 223h1v1h-1zM873 223h1v1h-1zM40 224h1v1h-1zM175 224h1v1h-1zM388 224h1v1h-1zM453 224h2v1h-2zM525 224h1v1h-1zM807 224h1v1h-1zM873 224h1v1h-1zM41 225h1v1h-1zM175 225h1v1h-1zM388 225h1v1h-1zM452 225h1v1h-1zM526 225h1v1h-1zM807 225h1v1h-1zM874 225h1v1h-1zM41 226h1v1h-1zM174 226h1v1h-1zM388 226h1v1h-1zM451 226h1v1h-1zM526 226h1v1h-1zM806 226h1v1h-1zM874 226h1v1h-1zM42 227h1v1h-1zM174 227h1v1h-1zM388 227h1v1h-1zM451 227h1v1h-1zM527 227h1v1h-1zM805 227h1v1h-1zM874 227h1v1h-1zM42 228h1v1h-1zM174 228h1v1h-1zM389 228h1v1h-1zM450 228h1v1h-1zM528 228h1v1h-1zM804 228h1v1h-1zM875 228h1v1h-1zM42 229h1v1h-1zM174 229h1v1h-1zM389 229h1v1h-1zM449 229h1v1h-1zM529 229h1v1h-1zM804 229h1v1h-1zM875 229h1v1h-1zM43 230h1v1h-1zM173 230h1v1h-1zM389 230h1v1h-1zM448 230h1v1h-1zM529 230h1v1h-1zM803 230h1v1h-1zM875 230h1v1h-1zM43 231h1v1h-1zM173 231h1v1h-1zM390 231h1v1h-1zM447 231h1v1h-1zM530 231h1v1h-1zM802 231h1v1h-1zM876 231h1v1h-1zM43 232h1v1h-1zM173 232h1v1h-1zM390 232h1v1h-1zM447 232h1v1h-1zM531 232h1v1h-1zM801 232h1v1h-1zM876 232h1v1h-1zM44 233h1v1h-1zM173 233h1v1h-1zM391 233h1v1h-1zM446 233h1v1h-1zM532 233h1v1h-1zM801 233h1v1h-1zM876 233h1v1h-1zM44 234h1v1h-1zM172 234h1v1h-1zM391 234h1v1h-1zM445 234h1v1h-1zM532 234h1v1h-1zM800 234h1v1h-1zM877 234h1v1h-1zM45 235h1v1h-1zM172 235h1v1h-1zM392 235h1v1h-1zM445 235h1v1h-1zM533 235h1v1h-1zM799 235h1v1h-1zM877 235h1v1h-1zM45 236h1v1h-1zM172 236h1v1h-1zM392 236h1v1h-1zM444 236h1v1h-1zM534 236h1v1h-1zM798 236h1v1h-1zM877 236h1v1h-1zM45 237h1v1h-1zM172 237h1v1h-1zM393 237h1v1h-1zM444 237h1v1h-1zM534 237h1v1h-1zM798 237h1v1h-1zM878 237h1v1h-1zM46 238h1v1h-1zM172 238h1v1h-1zM393 238h1v1h-1zM443 238h1v1h-1zM535 238h1v1h-1zM796 238h2v1h-2zM878 238h1v1h-1zM46 239h1v1h-1zM171 239h1v1h-1zM394 239h1v1h-1zM443 239h1v1h-1zM536 239h1v1h-1zM792 239h4v1h-4zM878 239h1v1h-1zM47 240h1v1h-1zM171 240h1v1h-1zM394 240h1v1h-1zM442 240h1v1h-1zM536 240h1v1h-1zM789 240h3v1h-3zM879 240h1v1h-1zM47 241h1v1h-1zM171 241h1v1h-1zM395 241h1v1h-1zM442 241h1v1h-1zM537 241h1v1h-1zM789 241h1v1h-1zM879 241h1v1h-1zM47 242h1v1h-1zM171 242h1v1h-1zM395 242h1v1h-1zM441 242h1v1h-1zM538 242h1v1h-1zM788 242h1v1h-1zM879 242h1v1h-1zM48 243h1v1h-1zM171 243h1v1h-1zM396 243h1v1h-1zM441 243h1v1h-1zM538 243h1v1h-1zM788 243h1v1h-1zM880 243h1v1h-1zM48 244h1v1h-1zM170 244h1v1h-1zM396 244h1v1h-1zM440 244h1v1h-1zM539 244h1v1h-1zM787 244h1v1h-1zM880 244h1v1h-1zM49 245h1v1h-1zM170 245h1v1h-1zM397 245h1v1h-1zM440 245h1v1h-1zM540 245h1v1h-1zM787 245h1v1h-1zM880 245h1v1h-1zM49 246h1v1h-1zM170 246h1v1h-1zM397 246h1v1h-1zM439 246h1v1h-1zM540 246h1v1h-1zM786 246h1v1h-1zM881 246h1v1h-1zM49 247h1v1h-1zM170 247h1v1h-1zM397 247h1v1h-1zM439 247h1v1h-1zM541 247h1v1h-1zM786 247h1v1h-1zM881 247h1v1h-1zM50 248h1v1h-1zM170 248h1v1h-1zM398 248h1v1h-1zM438 248h1v1h-1zM541 248h1v1h-1zM785 248h1v1h-1zM881 248h1v1h-1zM50 249h1v1h-1zM169 249h1v1h-1zM398 249h1v1h-1zM438 249h1v1h-1zM542 249h1v1h-1zM785 249h1v1h-1zM881 249h1v1h-1zM51 250h1v1h-1zM169 250h1v1h-1zM398 250h1v1h-1zM437 250h1v1h-1zM542 250h1v1h-1zM784 250h1v1h-1zM882 250h1v1h-1zM51 251h1v1h-1zM169 251h1v1h-1zM399 251h1v1h-1zM435 251h2v1h-2zM542 251h1v1h-1zM784 251h1v1h-1zM882 251h1v1h-1zM51 252h1v1h-1zM169 252h1v1h-1zM399 252h1v1h-1zM434 252h1v1h-1zM543 252h1v1h-1zM783 252h1v1h-1zM882 252h1v1h-1zM52 253h1v1h-1zM169 253h1v1h-1zM399 253h1v1h-1zM432 253h2v1h-2zM543 253h1v1h-1zM783 253h1v1h-1zM883 253h1v1h-1zM52 254h1v1h-1zM168 254h1v1h-1zM400 254h1v1h-1zM430 254h2v1h-2zM543 254h1v1h-1zM782 254h1v1h-1zM883 254h1v1h-1zM53 255h1v1h-1zM168 255h1v1h-1zM400 255h1v1h-1zM429 255h1v1h-1zM544 255h1v1h-1zM782 255h1v1h-1zM883 255h1v1h-1zM53 256h1v1h-1zM168 256h1v1h-1zM400 256h1v1h-1zM428 256h1v1h-1zM544 256h1v1h-1zM685 256h9v1h-9zM725 256h1v1h-1zM780 256h2v1h-2zM884 256h1v1h-1zM53 257h1v1h-1zM168 257h1v1h-1zM401 257h1v1h-1zM427 257h1v1h-1zM544 257h1v1h-1zM683 257h2v1h-2zM694 257h1v1h-1zM723 257h2v1h-2zM726 257h1v1h-1zM778 257h2v1h-2zM884 257h1v1h-1zM54 258h1v1h-1zM168 258h1v1h-1zM401 258h1v1h-1zM426 258h1v1h-1zM545 258h1v1h-1zM681 258h2v1h-2zM695 258h1v1h-1zM721 258h2v1h-2zM727 258h1v1h-1zM775 258h3v1h-3zM884 258h1v1h-1zM54 259h1v1h-1zM167 259h1v1h-1zM401 259h1v1h-1zM425 259h1v1h-1zM545 259h1v1h-1zM679 259h2v1h-2zM696 259h1v1h-1zM719 259h2v1h-2zM728 259h1v1h-1zM772 259h3v1h-3zM885 259h1v1h-1zM55 260h1v1h-1zM167 260h1v1h-1zM402 260h1v1h-1zM424 260h1v1h-1zM545 260h1v1h-1zM677 260h2v1h-2zM697 260h1v1h-1zM717 260h2v1h-2zM729 260h1v1h-1zM768 260h4v1h-4zM885 260h1v1h-1zM55 261h1v1h-1zM167 261h1v1h-1zM402 261h1v1h-1zM423 261h1v1h-1zM546 261h1v1h-1zM675 261h2v1h-2zM698 261h1v1h-1zM715 261h2v1h-2zM730 261h1v1h-1zM756 261h12v1h-12zM885 261h1v1h-1zM55 262h1v1h-1zM167 262h1v1h-1zM402 262h1v1h-1zM422 262h1v1h-1zM546 262h1v1h-1zM674 262h1v1h-1zM699 262h1v1h-1zM714 262h1v1h-1zM731 262h1v1h-1zM754 262h2v1h-2zM886 262h1v1h-1zM56 263h1v1h-1zM166 263h1v1h-1zM403 263h1v1h-1zM421 263h1v1h-1zM546 263h1v1h-1zM672 263h2v1h-2zM700 263h1v1h-1zM712 263h2v1h-2zM732 263h1v1h-1zM751 263h3v1h-3zM886 263h1v1h-1zM56 264h1v1h-1zM166 264h1v1h-1zM403 264h1v1h-1zM420 264h1v1h-1zM547 264h1v1h-1zM670 264h2v1h-2zM701 264h4v1h-4zM710 264h2v1h-2zM733 264h1v1h-1zM749 264h2v1h-2zM887 264h1v1h-1zM56 265h1v1h-1zM166 265h1v1h-1zM403 265h1v1h-1zM419 265h1v1h-1zM547 265h1v1h-1zM666 265h4v1h-4zM705 265h5v1h-5zM734 265h2v1h-2zM747 265h2v1h-2zM887 265h1v1h-1zM57 266h1v1h-1zM166 266h1v1h-1zM404 266h1v1h-1zM418 266h1v1h-1zM547 266h1v1h-1zM660 266h6v1h-6zM736 266h2v1h-2zM745 266h2v1h-2zM888 266h1v1h-1zM57 267h1v1h-1zM166 267h1v1h-1zM404 267h1v1h-1zM417 267h1v1h-1zM548 267h1v1h-1zM656 267h4v1h-4zM738 267h2v1h-2zM743 267h2v1h-2zM888 267h1v1h-1zM58 268h1v1h-1zM165 268h1v1h-1zM404 268h1v1h-1zM416 268h1v1h-1zM548 268h1v1h-1zM652 268h4v1h-4zM740 268h3v1h-3zM889 268h1v1h-1zM58 269h1v1h-1zM165 269h1v1h-1zM405 269h1v1h-1zM415 269h1v1h-1zM548 269h1v1h-1zM650 269h2v1h-2zM889 269h1v1h-1zM58 270h1v1h-1zM165 270h1v1h-1zM405 270h4v1h-4zM414 270h1v1h-1zM549 270h1v1h-1zM647 270h3v1h-3zM889 270h1v1h-1zM59 271h1v1h-1zM165 271h1v1h-1zM409 271h5v1h-5zM549 271h1v1h-1zM645 271h2v1h-2zM890 271h1v1h-1zM59 272h1v1h-1zM164 272h1v1h-1zM549 272h1v1h-1zM644 272h1v1h-1zM890 272h1v1h-1zM59 273h1v1h-1zM164 273h1v1h-1zM550 273h1v1h-1zM644 273h1v1h-1zM891 273h1v1h-1zM60 274h1v1h-1zM163 274h1v1h-1zM550 274h1v1h-1zM643 274h1v1h-1zM891 274h1v1h-1zM60 275h1v1h-1zM163 275h1v1h-1zM551 275h1v1h-1zM642 275h1v1h-1zM892 275h1v1h-1zM61 276h1v1h-1zM162 276h1v1h-1zM551 276h1v1h-1zM641 276h1v1h-1zM892 276h1v1h-1zM61 277h1v1h-1zM162 277h1v1h-1zM551 277h1v1h-1zM641 277h1v1h-1zM893 277h1v1h-1zM61 278h1v1h-1zM162 278h1v1h-1zM552 278h1v1h-1zM640 278h1v1h-1zM893 278h1v1h-1zM62 279h1v1h-1zM161 279h1v1h-1zM552 279h1v1h-1zM639 279h1v1h-1zM894 279h1v1h-1zM62 280h1v1h-1zM161 280h1v1h-1zM553 280h1v1h-1zM638 280h1v1h-1zM894 280h1v1h-1zM63 281h1v1h-1zM160 281h1v1h-1zM553 281h1v1h-1zM638 281h1v1h-1zM895 281h1v1h-1zM63 282h1v1h-1zM160 282h1v1h-1zM553 282h1v1h-1zM636 282h2v1h-2zM895 282h1v1h-1zM64 283h1v1h-1zM160 283h1v1h-1zM554 283h1v1h-1zM632 283h4v1h-4zM896 283h1v1h-1zM64 284h1v1h-1zM159 284h1v1h-1zM554 284h1v1h-1zM629 284h3v1h-3zM896 284h1v1h-1zM65 285h1v1h-1zM159 285h1v1h-1zM555 285h1v1h-1zM628 285h1v1h-1zM897 285h1v1h-1zM65 286h1v1h-1zM158 286h1v1h-1zM555 286h1v1h-1zM627 286h1v1h-1zM897 286h1v1h-1zM66 287h1v1h-1zM158 287h1v1h-1zM555 287h1v1h-1zM627 287h1v1h-1zM898 287h1v1h-1zM66 288h1v1h-1zM157 288h1v1h-1zM556 288h1v1h-1zM626 288h1v1h-1zM898 288h1v1h-1zM67 289h1v1h-1zM157 289h1v1h-1zM556 289h1v1h-1zM625 289h1v1h-1zM899 289h1v1h-1zM67 290h1v1h-1zM157 290h1v1h-1zM557 290h1v1h-1zM624 290h1v1h-1zM899 290h1v1h-1zM68 291h1v1h-1zM156 291h1v1h-1zM557 291h1v1h-1zM623 291h1v1h-1zM900 291h1v1h-1zM68 292h1v1h-1zM156 292h1v1h-1zM558 292h1v1h-1zM623 292h1v1h-1zM900 292h1v1h-1zM69 293h1v1h-1zM155 293h1v1h-1zM559 293h1v1h-1zM622 293h1v1h-1zM901 293h1v1h-1zM69 294h1v1h-1zM155 294h1v1h-1zM560 294h1v1h-1zM621 294h1v1h-1zM901 294h1v1h-1zM70 295h1v1h-1zM154 295h1v1h-1zM561 295h1v1h-1zM619 295h2v1h-2zM902 295h1v1h-1zM70 296h1v1h-1zM154 296h1v1h-1zM561 296h1v1h-1zM618 296h1v1h-1zM902 296h1v1h-1zM71 297h1v1h-1zM154 297h1v1h-1zM562 297h1v1h-1zM616 297h2v1h-2zM903 297h1v1h-1zM71 298h1v1h-1zM153 298h1v1h-1zM563 298h1v1h-1zM614 298h2v1h-2zM903 298h1v1h-1zM72 299h1v1h-1zM153 299h1v1h-1zM564 299h1v1h-1zM613 299h1v1h-1zM904 299h1v1h-1zM73 300h1v1h-1zM152 300h1v1h-1zM565 300h1v1h-1zM612 300h1v1h-1zM905 300h1v1h-1zM73 301h1v1h-1zM152 301h1v1h-1zM566 301h2v1h-2zM611 301h1v1h-1zM905 301h1v1h-1zM74 302h1v1h-1zM152 302h1v1h-1zM568 302h1v1h-1zM611 302h1v1h-1zM906 302h1v1h-1zM75 303h1v1h-1zM151 303h1v1h-1zM569 303h2v1h-2zM610 303h1v1h-1zM907 303h1v1h-1zM75 304h1v1h-1zM151 304h1v1h-1zM571 304h2v1h-2zM609 304h1v1h-1zM907 304h1v1h-1zM76 305h1v1h-1zM150 305h1v1h-1zM573 305h1v1h-1zM608 305h1v1h-1zM908 305h1v1h-1zM76 306h1v1h-1zM150 306h1v1h-1zM574 306h2v1h-2zM607 306h1v1h-1zM908 306h1v1h-1zM77 307h1v1h-1zM149 307h1v1h-1zM576 307h1v1h-1zM607 307h1v1h-1zM909 307h1v1h-1zM78 308h1v1h-1zM149 308h1v1h-1zM577 308h2v1h-2zM606 308h1v1h-1zM910 308h1v1h-1zM78 309h1v1h-1zM149 309h1v1h-1zM579 309h2v1h-2zM605 309h1v1h-1zM910 309h1v1h-1zM79 310h1v1h-1zM148 310h1v1h-1zM581 310h1v1h-1zM603 310h2v1h-2zM911 310h1v1h-1zM80 311h1v1h-1zM148 311h1v1h-1zM582 311h2v1h-2zM602 311h1v1h-1zM911 311h1v1h-1zM81 312h1v1h-1zM147 312h1v1h-1zM584 312h2v1h-2zM600 312h2v1h-2zM912 312h1v1h-1zM81 313h1v1h-1zM147 313h1v1h-1zM586 313h2v1h-2zM598 313h2v1h-2zM912 313h1v1h-1zM82 314h1v1h-1zM146 314h1v1h-1zM588 314h10v1h-10zM913 314h1v1h-1zM83 315h1v1h-1zM146 315h1v1h-1zM914 315h1v1h-1zM84 316h1v1h-1zM145 316h1v1h-1zM914 316h1v1h-1zM84 317h1v1h-1zM145 317h1v1h-1zM915 317h1v1h-1zM85 318h6v1h-6zM144 318h1v1h-1zM915 318h1v1h-1zM91 319h4v1h-4zM107 319h3v1h-3zM144 319h1v1h-1zM916 319h1v1h-1zM95 320h12v1h-12zM110 320h1v1h-1zM143 320h1v1h-1zM916 320h1v1h-1zM110 321h1v1h-1zM143 321h1v1h-1zM917 321h1v1h-1zM111 322h1v1h-1zM142 322h1v1h-1zM918 322h1v1h-1zM111 323h1v1h-1zM142 323h1v1h-1zM918 323h1v1h-1zM111 324h1v1h-1zM141 324h1v1h-1zM919 324h1v1h-1zM112 325h1v1h-1zM140 325h1v1h-1zM919 325h1v1h-1zM112 326h1v1h-1zM140 326h1v1h-1zM920 326h1v1h-1zM113 327h1v1h-1zM139 327h1v1h-1zM921 327h1v1h-1zM113 328h1v1h-1zM139 328h1v1h-1zM921 328h1v1h-1zM113 329h1v1h-1zM138 329h1v1h-1zM922 329h1v1h-1zM114 330h1v1h-1zM137 330h1v1h-1zM923 330h1v1h-1zM114 331h1v1h-1zM137 331h1v1h-1zM923 331h1v1h-1zM114 332h1v1h-1zM136 332h1v1h-1zM924 332h1v1h-1zM115 333h1v1h-1zM135 333h1v1h-1zM924 333h1v1h-1zM115 334h1v1h-1zM135 334h1v1h-1zM925 334h2v1h-2zM116 335h1v1h-1zM134 335h1v1h-1zM927 335h2v1h-2zM116 336h1v1h-1zM134 336h1v1h-1zM929 336h3v1h-3zM116 337h1v1h-1zM133 337h1v1h-1zM932 337h10v1h-10zM117 338h1v1h-1zM132 338h1v1h-1zM942 338h1v1h-1zM117 339h1v1h-1zM132 339h1v1h-1zM942 339h1v1h-1zM118 340h1v1h-1zM131 340h1v1h-1zM943 340h1v1h-1zM119 341h1v1h-1zM130 341h1v1h-1zM944 341h1v1h-1zM119 342h1v1h-1zM130 342h1v1h-1zM945 342h1v1h-1zM120 343h1v1h-1zM129 343h1v1h-1zM945 343h1v1h-1zM121 344h1v1h-1zM128 344h1v1h-1zM946 344h1v1h-1zM122 345h1v1h-1zM128 345h1v1h-1zM947 345h1v1h-1zM123 346h1v1h-1zM127 346h1v1h-1zM948 346h1v1h-1zM123 347h1v1h-1zM126 347h1v1h-1zM948 347h1v1h-1zM124 348h1v1h-1zM126 348h1v1h-1zM949 348h1v1h-1zM125 349h1v1h-1zM950 349h1v1h-1zM951 350h1v1h-1zM952 351h1v1h-1zM953 352h2v1h-2zM955 353h1v1h-1zM956 354h1v1h-1zM957 355h1v1h-1zM958 356h1v1h-1zM959 357h1v1h-1zM960 358h1v1h-1zM961 359h2v1h-2zM963 360h1v1h-1zM964 361h1v1h-1zM965 362h1v1h-1zM966 363h1v1h-1zM967 364h1v1h-1zM968 365h1v1h-1zM969 366h1v1h-1zM970 367h1v1h-1zM971 368h1v1h-1zM972 369h1v1h-1zM973 370h1v1h-1zM974 371h2v1h-2zM976 372h1v1h-1zM977 373h2v1h-2zM979 374h2v1h-2zM981 375h9v1h-9zM990 376h2v1h-2zM992 377h1v1h-1zM993 378h2v1h-2zM995 379h2v1h-2zM997 380h1v1h-1zM998 381h2v1h-2zM1000 382h2v1h-2zM1002 383h2v1h-2zM1004 384h2v1h-2zM1006 385h1v1h-1zM1007 386h1v1h-1zM1008 387h1v1h-1zM1009 388h1v1h-1zM1009 389h1v1h-1zM1010 390h1v1h-1zM1011 391h1v1h-1zM1012 392h1v1h-1zM1013 393h1v1h-1zM1014 394h1v1h-1zM1014 395h1v1h-1zM1015 396h1v1h-1zM1016 397h1v1h-1zM1017 398h1v1h-1zM1017 399h1v1h-1zM1018 400h1v1h-1zM1019 401h1v1h-1zM1019 402h1v1h-1zM1020 403h1v1h-1zM1020 404h1v1h-1zM1021 405h1v1h-1zM1021 406h1v1h-1zM1021 407h1v1h-1zM1022 408h1v1h-1zM1022 409h1v1h-1zM1023 410h1v1h-1zM1023 411h1v1h-1zM1024 412h1v1h-1zM1024 413h1v1h-1zM1025 414h1v1h-1zM1025 415h1v1h-1zM1026 416h1v1h-1zM1026 417h1v1h-1zM1027 418h1v1h-1zM1027 419h1v1h-1zM1028 420h1v1h-1zM1028 421h1v1h-1zM1029 422h1v1h-1zM1029 423h1v1h-1zM1030 424h1v1h-1zM1030 425h1v1h-1zM1031 426h1v1h-1zM1031 427h1v1h-1zM1032 428h1v1h-1zM1032 429h1v1h-1zM1033 430h1v1h-1zM1033 431h1v1h-1zM1034 432h1v1h-1zM1034 433h1v1h-1zM1035 434h1v1h-1zM1035 435h1v1h-1zM1036 436h1v1h-1zM1036 437h1v1h-1zM1037 438h1v1h-1zM1037 439h1v1h-1zM1038 440h1v1h-1zM1038 441h1v1h-1zM1039 442h1v1h-1zM1039 443h1v1h-1zM1040 444h1v1h-1zM1040 445h1v1h-1zM1041 446h1v1h-1zM1041 447h1v1h-1zM1042 448h1v1h-1zM1042 449h1v1h-1zM1043 450h1v1h-1zM1043 451h1v1h-1zM1044 452h1v1h-1zM1044 453h1v1h-1zM1045 454h1v1h-1zM1045 455h1v1h-1zM1046 456h1v1h-1zM1047 457h1v1h-1zM1048 458h1v1h-1zM1049 459h1v1h-1zM1049 460h1v1h-1zM1050 461h1v1h-1zM1051 462h1v1h-1zM1052 463h1v1h-1zM1115 463h2v1h-2zM1053 464h1v1h-1zM1113 464h2v1h-2zM1054 465h1v1h-1zM1111 465h2v1h-2zM1055 466h1v1h-1zM1108 466h3v1h-3zM1055 467h1v1h-1zM1104 467h4v1h-4zM1056 468h1v1h-1zM1100 468h4v1h-4zM1057 469h1v1h-1zM1098 469h2v1h-2zM1058 470h1v1h-1zM1095 470h3v1h-3zM1059 471h1v1h-1zM1093 471h2v1h-2zM1059 472h1v1h-1zM1092 472h1v1h-1zM1060 473h1v1h-1zM1091 473h1v1h-1zM1061 474h1v1h-1zM1090 474h1v1h-1zM1062 475h1v1h-1zM1089 475h1v1h-1zM1063 476h1v1h-1zM1089 476h1v1h-1zM1064 477h1v1h-1zM1088 477h1v1h-1zM1065 478h1v1h-1zM1087 478h1v1h-1zM1066 479h1v1h-1zM1086 479h1v1h-1zM1067 480h1v1h-1zM1085 480h1v1h-1zM1068 481h1v1h-1zM1084 481h1v1h-1zM1069 482h1v1h-1zM1082 482h2v1h-2zM1070 483h2v1h-2zM1081 483h1v1h-1zM1072 484h2v1h-2zM1080 484h1v1h-1zM1074 485h2v1h-2zM1078 485h2v1h-2zM1076 486h2v1h-2z" fill="#0000cd"/>
<rect x="918" y="295" width="337" height="6" fill="#f63a3c" />
<rect x="916" y="402" width="322" height="5" fill="#98cb05" />
</g>
<rect x="5" y="600" width="1" height="15" fill="#c0c0c0" />
<rect x="13" y="600" width="1" height="16" fill="#c0c0c0" />
<rect x="21" y="600" width="1" height="24" fill="#c0c0c0" />
<rect x="29" y="600" width="1" height="29" fill="#c0c0c0" />
<rect x="37" y="600" width="1" height="38" fill="#c0c0c0" />
<rect x="45" y="600" width="1" height="46" fill="#c0c0c0" />
<rect x="53" y="600" width="1" height="51" fill="#c0c0c0" />
<rect x="61" y="600" width="1" height="54" fill="#c0c0c0" />
<rect x="69" y="600" width="1" height="54" fill="#c0c0c0" />
<rect x="77" y="600" width="1" height="56" fill="#c0c0c0" />
<rect x="85" y="600" width="1" height="56" fill="#c0c0c0" />
<rect x="93" y="600" width="1" height="56" fill="#c0c0c0" />
<rect x="101" y="600" width="1" height="55" fill="#c0c0c0" />
<rect x="109" y="600" width="1" height="54" fill="#c0c0c0" />
<rect x="117" y="600" width="1" height="64" fill="#c0c0c0" />
<rect x="125" y="600" width="1" height="62" fill="#c0c0c0" />
<rect x="133" y="600" width="1" height="52" fill="#c0c0c0" />
<rect x="141" y="600" width="1" height="42" fill="#c0c0c0" />
<rect x="149" y="600" width="1" height="32" fill="#c0c0c0" />
<rect x="157" y="600" width="1" height="22" fill="#c0c0c0" />
<rect x="165" y="600" width="1" height="13" fill="#c0c0c0" />
<rect x="173" y="600" width="1" height="5" fill="#c0c0c0" />
<rect x="181" y="596" width="1" height="5" fill="#c0c0c0" />
<rect x="189" y="592" width="1" height="9" fill="#c0c0c0" />
<rect x="197" y="587" width="1" height="14" fill="#c0c0c0" />
<rect x="205" y="583" width="1" height="18" fill="#c0c0c0" />
<rect x="213" y="584" width="1" height="17" fill="#c0c0c0" />
<rect x="221" y="582" width="1" height="19" fill="#c0c0c0" />
<rect x="229" y="584" width="1" height="17" fill="#c0c0c0" />
<rect x="237" y="585" width="1" height="16" fill="#c0c0c0" />
<rect x="245" y="588" width="1" height="13" fill="#c0c0c0" />
<rect x="253" y="592" width="1" height="9" fill="#c0c0c0" />
<rect x="261" y="593" width="1" height="8" fill="#c0c0c0" />
<rect x="269" y="599" width="1" height="2" fill="#c0c0c0" />
<rect x="277" y="597" width="1" height="4" fill="#c0c0c0" />
<rect x="285" y="595" width="1" height="6" fill="#c0c0c0" />
<rect x="293" y="594" width="1" height="7" fill="#c0c0c0" />
<rect x="301" y="595" width="1" height="6" fill="#c0c0c0" />
<rect x="309" y="587" width="1" height="14" fill="#c0c0c0" />
<rect x="317" y="579" width="1" height="22" fill="#c0c0c0" />
<rect x="325" y="576" width="1" height="25" fill="#c0c0c0" />
<rect x="333" y="573" width="1" height="28" fill="#c0c0c0" />
<rect x="341" y="574" width="1" height="27" fill="#c0c0c0" />
<rect x="349" y="573" width="1" height="28" fill="#c0c0c0" />
<rect x="357" y="584" width="1" height="17" fill="#c0c0c0" />
<rect x="365" y="594" width="1" height="7" fill="#c0c0c0" />
<rect x="373" y="600" width="1" height="1" fill="#c0c0c0" />
<rect x="381" y="600" width="1" height="6" fill="#c0c0c0" />
<rect x="389" y="600" width="1" height="15" fill="#c0c0c0" />
<rect x="397" y="600" width="1" height="17" fill="#c0c0c0" />
<rect x="405" y="600" width="1" height="20" fill="#c0c0c0" />
<rect x="413" y="600" width="1" height="20" fill="#c0c0c0" />
<rect x="421" y="600" width="1" height="18" fill="#c0c0c0" />
<rect x="429" y="600" width="1" height="15" fill="#c0c0c0" />
<rect x="437" y="600" width="1" height="13" fill="#c0c0c0" />
<rect x="445" y="600" width="1" height="9" fill="#c0c0c0" />
<rect x="453" y="600" width="1" height="6" fill="#c0c0c0" />
<rect x="461" y="600" width="1" height="8" fill="#c0c0c0" />
<rect x="469" y="600" width="1" height="7" fill="#c0c0c0" />
<rect x="477" y="600" width="1" height="5" fill="#c0c0c0" />
<rect x="485" y="600" width="1" height="2" fill="#c0c0c0" />
<rect x="493" y="599" width="1" height="2" fill="#c0c0c0" />
<rect x="501" y="599" width="1" height="2" fill="#c0c0c0" />
<rect x="509" y="600" width="1" height="3" fill="#c0c0c0" />
<rect x="517" y="600" width="1" height="9" fill="#c0c0c0" />
<rect x="525" y="600" width="1" height="11" fill="#c0c0c0" />
<rect x="533" y="600" width="1" height="13" fill="#c0c0c0" />
<rect x="541" y="600" width="1" height="15" fill="#c0c0c0" />
<rect x="549" y="600" width="1" height="21" fill="#c0c0c0" />
<rect x="557" y="600" width="1" height="26" fill="#c0c0c0" />
<rect x="565" y="600" width="1" height="29" fill="#c0c0c0" />
<rect x="573" y="600" width="1" height="30" fill="#c0c0c0" />
<rect x="581" y="600" width="1" height="29" fill="#c0c0c0" />
<rect x="589" y="600" width="1" height="28" fill="#c0c0c0" />
<rect x="597" y="600" width="1" height="26" fill="#c0c0c0" />
<rect x="605" y="600" width="1" height="24" fill="#c0c0c0" />
<rect x="613" y="600" width="1" height="21" fill="#c0c0c0" />
<rect x="621" y="600" width="1" height="18" fill="#c0c0c0" />
<rect x="629" y="600" width="1" height="16" fill="#c0c0c0" />
<rect x="637" y="600" width="1" height="14" fill="#c0c0c0" />
<rect x="645" y="600" width="1" height="7" fill="#c0c0c0" />
<rect x="653" y="600" width="1" height="6" fill="#c0c0c0" />
<rect x="661" y="600" width="1" height="6" fill="#c0c0c0" />
<rect x="669" y="600" width="1" height="6" fill="#c0c0c0" />
<rect x="677" y="600" width="1" height="4" fill="#c0c0c0" />
<rect x="693" y="600" width="1" height="2" fill="#c0c0c0" />
<rect x="701" y="600" width="1" height="3" fill="#c0c0c0" />
<rect x="709" y="600" width="1" height="2" fill="#c0c0c0" />
<rect x="717" y="600" width="1" height="1" fill="#c0c0c0" />
<rect x="733" y="600" width="1" height="4" fill="#c0c0c0" />
<rect x="741" y="600" width="1" height="1" fill="#c0c0c0" />
<rect x="773" y="599" width="1" height="2" fill="#c0c0c0" />
<rect x="781" y="597" width="1" height="4" fill="#c0c0c0" />
<rect x="789" y="592" width="1" height="9" fill="#c0c0c0" />
<rect x="797" y="592" width="1" height="9" fill="#c0c0c0" />
<rect x="805" y="588" width="1" height="13" fill="#c0c0c0" />
<rect x="813" y="585" width="1" height="16" fill="#c0c0c0" />
<rect x="821" y="583" width="1" height="18" fill="#c0c0c0" />
<rect x="829" y="582" width="1" height="19" fill="#c0c0c0" />
<rect x="837" y="581" width="1" height="20" fill="#c0c0c0" />
<rect x="845" y="582" width="1" height="19" fill="#c0c0c0" />
<rect x="853" y="584" width="1" height="17" fill="#c0c0c0" />
<rect x="861" y="586" width="1" height="15" fill="#c0c0c0" />
<rect x="869" y="592" width="1" height="9" fill="#c0c0c0" />
<rect x="877" y="600" width="1" height="1" fill="#c0c0c0" />
<rect x="885" y="600" width="1" height="11" fill="#c0c0c0" />
<rect x="893" y="600" width="1" height="15" fill="#c0c0c0" />
<rect x="901" y="600" width="1" height="18" fill="#c0c0c0" />
<rect x="909" y="600" width="1" height="20" fill="#c0c0c0" />
<rect x="917" y="600" width="1" height="21" fill="#c0c0c0" />
<rect x="925" y="600" width="1" height="25" fill="#c0c0c0" />
<rect x="933" y="600" width="1" height="28" fill="#c0c0c0" />
<rect x="941" y="600" width="1" height="31" fill="#c0c0c0" />
<rect x="949" y="600" width="1" height="35" fill="#c0c0c0" />
<rect x="957" y="600" width="1" height="36" fill="#c0c0c0" />
<rect x="965" y="600" width="1" height="35" fill="#c0c0c0" />
<rect x="973" y="600" width="1" height="36" fill="#c0c0c0" />
<rect x="981" y="600" width="1" height="35" fill="#c0c0c0" />
<rect x="989" y="600" width="1" height="35" fill="#c0c0c0" />
<rect x="997" y="600" width="1" height="36" fill="#c0c0c0" />
<rect x="1005" y="600" width="1" height="38" fill="#c0c0c0" />
<rect x="1013" y="600" width="1" height="41" fill="#c0c0c0" />
<rect x="1021" y="600" width="1" height="43" fill="#c0c0c0" />
<rect x="1029" y="600" width="1" height="48" fill="#c0c0c0" />
<rect x="1037" y="600" width="1" height="53" fill="#c0c0c0" />
<rect x="1045" y="600" width="1" height="53" fill="#c0c0c0" />
<rect x="1053" y="600" width="1" height="51" fill="#c0c0c0" />
<rect x="1061" y="600" width="1" height="52" fill="#c0c0c0" />
<rect x="1069" y="600" width="1" height="53" fill="#c0c0c0" />
<rect x="1077" y="600" width="1" height="50" fill="#c0c0c0" />
<rect x="1085" y="600" width="1" height="45" fill="#c0c0c0" />
<rect x="1093" y="600" width="1" height="42" fill="#c0c0c0" />
<rect x="1101" y="600" width="1" height="38" fill="#c0c0c0" />
<rect x="1109" y="600" width="1" height="36" fill="#c0c0c0" />
<rect x="1117" y="600" width="1" height="33" fill="#c0c0c0" />
<path d="M359 581h3v1h-3zM365 581h3v1h-3zM353 582h3v1h-3zM371 582h3v1h-3zM348 583h2v1h-2zM377 583h2v1h-2zM347 584h1v1h-1zM379 584h1v1h-1zM858 584h2v1h-2zM863 584h3v1h-3zM869 584h3v1h-3zM251 585h3v1h-3zM257 585h3v1h-3zM341 585h3v1h-3zM383 585h1v1h-1zM851 585h3v1h-3zM857 585h1v1h-1zM875 585h3v1h-3zM245 586h3v1h-3zM263 586h3v1h-3zM336 586h2v1h-2zM384 586h2v1h-2zM845 586h3v1h-3zM239 587h3v1h-3zM269 587h3v1h-3zM335 587h1v1h-1zM840 587h2v1h-2zM881 587h3v1h-3zM235 588h1v1h-1zM275 588h3v1h-3zM329 588h3v1h-3zM389 588h1v1h-1zM834 588h2v1h-2zM839 588h1v1h-1zM233 589h2v1h-2zM281 589h3v1h-3zM324 589h2v1h-2zM390 589h2v1h-2zM828 589h2v1h-2zM833 589h1v1h-1zM887 589h1v1h-1zM287 590h2v1h-2zM323 590h1v1h-1zM827 590h1v1h-1zM888 590h2v1h-2zM229 591h1v1h-1zM289 591h1v1h-1zM317 591h3v1h-3zM395 591h1v1h-1zM823 591h1v1h-1zM227 592h2v1h-2zM293 592h3v1h-3zM299 592h3v1h-3zM305 592h3v1h-3zM311 592h3v1h-3zM396 592h2v1h-2zM821 592h2v1h-2zM893 592h2v1h-2zM816 593h2v1h-2zM895 593h1v1h-1zM223 594h1v1h-1zM815 594h1v1h-1zM899 594h1v1h-1zM221 595h2v1h-2zM401 595h1v1h-1zM809 595h3v1h-3zM900 595h2v1h-2zM402 596h1v1h-1zM804 596h2v1h-2zM403 597h1v1h-1zM803 597h1v1h-1zM217 598h1v1h-1zM797 598h3v1h-3zM905 598h2v1h-2zM216 599h1v1h-1zM407 599h1v1h-1zM786 599h2v1h-2zM791 599h3v1h-3zM907 599h1v1h-1zM215 600h1v1h-1zM408 600h2v1h-2zM779 600h3v1h-3zM785 600h1v1h-1zM749 601h3v1h-3zM755 601h3v1h-3zM761 601h3v1h-3zM767 601h3v1h-3zM773 601h3v1h-3zM911 601h1v1h-1zM5 602h1v1h-1zM413 602h1v1h-1zM738 602h2v1h-2zM743 602h3v1h-3zM912 602h1v1h-1zM6 603h2v1h-2zM211 603h1v1h-1zM414 603h1v1h-1zM725 603h3v1h-3zM731 603h3v1h-3zM737 603h1v1h-1zM913 603h1v1h-1zM210 604h1v1h-1zM415 604h1v1h-1zM509 604h3v1h-3zM515 604h3v1h-3zM714 604h2v1h-2zM719 604h3v1h-3zM11 605h1v1h-1zM209 605h1v1h-1zM503 605h3v1h-3zM521 605h3v1h-3zM527 605h3v1h-3zM533 605h2v1h-2zM707 605h3v1h-3zM713 605h1v1h-1zM917 605h1v1h-1zM12 606h2v1h-2zM497 606h3v1h-3zM535 606h1v1h-1zM701 606h3v1h-3zM918 606h2v1h-2zM419 607h2v1h-2zM492 607h2v1h-2zM539 607h3v1h-3zM695 607h3v1h-3zM17 608h3v1h-3zM205 608h1v1h-1zM421 608h1v1h-1zM491 608h1v1h-1zM545 608h3v1h-3zM689 608h3v1h-3zM923 608h1v1h-1zM204 609h1v1h-1zM485 609h3v1h-3zM551 609h2v1h-2zM684 609h2v1h-2zM924 609h2v1h-2zM23 610h2v1h-2zM203 610h1v1h-1zM425 610h1v1h-1zM480 610h2v1h-2zM553 610h1v1h-1zM683 610h1v1h-1zM25 611h1v1h-1zM426 611h2v1h-2zM479 611h1v1h-1zM557 611h2v1h-2zM677 611h3v1h-3zM29 612h1v1h-1zM473 612h3v1h-3zM559 612h1v1h-1zM929 612h1v1h-1zM30 613h2v1h-2zM431 613h3v1h-3zM467 613h3v1h-3zM563 613h1v1h-1zM671 613h3v1h-3zM930 613h1v1h-1zM199 614h1v1h-1zM437 614h3v1h-3zM461 614h3v1h-3zM564 614h2v1h-2zM931 614h1v1h-1zM198 615h1v1h-1zM443 615h3v1h-3zM449 615h3v1h-3zM455 615h3v1h-3zM665 615h3v1h-3zM35 616h2v1h-2zM197 616h1v1h-1zM569 616h3v1h-3zM660 616h2v1h-2zM935 616h1v1h-1zM37 617h1v1h-1zM659 617h1v1h-1zM936 617h2v1h-2zM575 618h2v1h-2zM653 618h3v1h-3zM577 619h1v1h-1zM648 619h2v1h-2zM941 619h2v1h-2zM41 620h2v1h-2zM193 620h1v1h-1zM581 620h2v1h-2zM647 620h1v1h-1zM943 620h1v1h-1zM43 621h1v1h-1zM192 621h1v1h-1zM583 621h1v1h-1zM642 621h2v1h-2zM947 621h1v1h-1zM191 622h1v1h-1zM587 622h1v1h-1zM641 622h1v1h-1zM948 622h2v1h-2zM588 623h2v1h-2zM635 623h3v1h-3zM47 624h2v1h-2zM593 624h3v1h-3zM599 624h2v1h-2zM629 624h3v1h-3zM953 624h1v1h-1zM49 625h1v1h-1zM601 625h1v1h-1zM605 625h3v1h-3zM624 625h2v1h-2zM954 625h2v1h-2zM187 626h1v1h-1zM611 626h3v1h-3zM617 626h3v1h-3zM623 626h1v1h-1zM186 627h1v1h-1zM959 627h3v1h-3zM53 628h1v1h-1zM185 628h1v1h-1zM965 628h2v1h-2zM54 629h2v1h-2zM967 629h1v1h-1zM971 630h3v1h-3zM59 631h1v1h-1zM977 631h2v1h-2zM60 632h2v1h-2zM181 632h1v1h-1zM979 632h1v1h-1zM983 632h2v1h-2zM180 633h1v1h-1zM985 633h1v1h-1zM989 633h3v1h-3zM179 634h1v1h-1zM995 634h3v1h-3zM65 635h2v1h-2zM1001 635h3v1h-3zM1007 635h2v1h-2zM67 636h1v1h-1zM1009 636h1v1h-1zM1013 636h3v1h-3zM174 637h2v1h-2zM1019 637h3v1h-3zM71 638h1v1h-1zM173 638h1v1h-1zM1025 638h3v1h-3zM72 639h1v1h-1zM1031 639h2v1h-2zM73 640h1v1h-1zM1033 640h1v1h-1zM169 641h1v1h-1zM1037 641h3v1h-3zM77 642h1v1h-1zM168 642h1v1h-1zM1043 642h3v1h-3zM78 643h2v1h-2zM167 643h1v1h-1zM1049 643h2v1h-2zM1051 644h1v1h-1zM83 645h1v1h-1zM163 645h1v1h-1zM1055 645h3v1h-3zM1116 645h1v1h-1zM84 646h2v1h-2zM162 646h1v1h-1zM1061 646h3v1h-3zM1115 646h1v1h-1zM161 647h1v1h-1zM1067 647h3v1h-3zM1109 647h3v1h-3zM89 648h1v1h-1zM1073 648h2v1h-2zM1104 648h2v1h-2zM90 649h2v1h-2zM156 649h2v1h-2zM1075 649h1v1h-1zM1079 649h2v1h-2zM1098 649h2v1h-2zM1103 649h1v1h-1zM155 650h1v1h-1zM1081 650h1v1h-1zM1085 650h3v1h-3zM1091 650h3v1h-3zM1097 650h1v1h-1zM95 651h3v1h-3zM151 651h1v1h-1zM101 652h2v1h-2zM149 652h2v1h-2zM103 653h1v1h-1zM107 654h3v1h-3zM145 654h1v1h-1zM113 655h2v1h-2zM143 655h2v1h-2zM115 656h1v1h-1zM119 656h2v1h-2zM138 656h2v1h-2zM121 657h1v1h-1zM125 657h3v1h-3zM131 657h3v1h-3zM137 657h1v1h-1z" fill="#ff0000"/>
<path d="M316 719h2v1h-2zM312 720h4v1h-4zM318 720h2v1h-2zM309 721h3v1h-3zM320 721h2v1h-2zM308 722h1v1h-1zM322 722h2v1h-2zM308 723h1v1h-1zM324 723h5v1h-5zM789 723h1v1h-1zM180 724h5v1h-5zM202 724h4v1h-4zM307 724h1v1h-1zM329 724h5v1h-5zM788 724h1v1h-1zM790 724h1v1h-1zM176 725h4v1h-4zM185 725h17v1h-17zM206 725h1v1h-1zM307 725h1v1h-1zM334 725h1v1h-1zM787 725h1v1h-1zM791 725h1v1h-1zM805 725h18v1h-18zM836 725h2v1h-2zM172 726h4v1h-4zM207 726h1v1h-1zM306 726h1v1h-1zM335 726h1v1h-1zM349 726h1v1h-1zM786 726h1v1h-1zM791 726h1v1h-1zM804 726h1v1h-1zM823 726h4v1h-4zM832 726h4v1h-4zM838 726h1v1h-1zM168 727h4v1h-4zM208 727h1v1h-1zM306 727h1v1h-1zM336 727h1v1h-1zM347 727h3v1h-3zM785 727h1v1h-1zM792 727h1v1h-1zM803 727h1v1h-1zM827 727h5v1h-5zM839 727h1v1h-1zM162 728h6v1h-6zM209 728h2v1h-2zM220 728h2v1h-2zM305 728h1v1h-1zM337 728h2v1h-2zM346 728h1v1h-1zM350 728h1v1h-1zM493 728h1v1h-1zM784 728h1v1h-1zM793 728h1v1h-1zM802 728h1v1h-1zM840 728h1v1h-1zM156 729h6v1h-6zM211 729h1v1h-1zM218 729h2v1h-2zM222 729h2v1h-2zM304 729h1v1h-1zM339 729h1v1h-1zM344 729h2v1h-2zM350 729h1v1h-1zM491 729h2v1h-2zM494 729h1v1h-1zM645 729h1v1h-1zM685 729h1v1h-1zM783 729h1v1h-1zM794 729h1v1h-1zM801 729h1v1h-1zM841 729h2v1h-2zM152 730h4v1h-4zM212 730h1v1h-1zM215 730h3v1h-3zM224 730h1v1h-1zM304 730h1v1h-1zM340 730h1v1h-1zM342 730h2v1h-2zM351 730h1v1h-1zM489 730h2v1h-2zM495 730h1v1h-1zM644 730h1v1h-1zM646 730h1v1h-1zM683 730h2v1h-2zM686 730h1v1h-1zM782 730h1v1h-1zM795 730h1v1h-1zM800 730h1v1h-1zM843 730h1v1h-1zM148 731h4v1h-4zM213 731h2v1h-2zM225 731h2v1h-2zM277 731h10v1h-10zM303 731h1v1h-1zM341 731h1v1h-1zM351 731h1v1h-1zM487 731h2v1h-2zM496 731h1v1h-1zM643 731h1v1h-1zM647 731h2v1h-2zM681 731h2v1h-2zM686 731h1v1h-1zM778 731h4v1h-4zM795 731h1v1h-1zM799 731h1v1h-1zM844 731h1v1h-1zM146 732h2v1h-2zM227 732h2v1h-2zM276 732h1v1h-1zM287 732h2v1h-2zM303 732h1v1h-1zM351 732h1v1h-1zM445 732h9v1h-9zM484 732h3v1h-3zM497 732h1v1h-1zM642 732h1v1h-1zM649 732h1v1h-1zM679 732h2v1h-2zM687 732h1v1h-1zM773 732h5v1h-5zM796 732h1v1h-1zM798 732h1v1h-1zM845 732h9v1h-9zM143 733h3v1h-3zM229 733h4v1h-4zM276 733h1v1h-1zM289 733h3v1h-3zM302 733h1v1h-1zM352 733h1v1h-1zM444 733h1v1h-1zM454 733h1v1h-1zM480 733h4v1h-4zM497 733h1v1h-1zM641 733h1v1h-1zM650 733h1v1h-1zM677 733h2v1h-2zM688 733h1v1h-1zM741 733h2v1h-2zM771 733h2v1h-2zM797 733h1v1h-1zM854 733h2v1h-2zM138 734h5v1h-5zM233 734h8v1h-8zM275 734h1v1h-1zM292 734h5v1h-5zM302 734h1v1h-1zM352 734h1v1h-1zM443 734h1v1h-1zM454 734h1v1h-1zM477 734h3v1h-3zM498 734h1v1h-1zM641 734h1v1h-1zM651 734h2v1h-2zM676 734h1v1h-1zM689 734h1v1h-1zM716 734h10v1h-10zM740 734h1v1h-1zM743 734h4v1h-4zM769 734h2v1h-2zM856 734h2v1h-2zM133 735h5v1h-5zM241 735h5v1h-5zM275 735h1v1h-1zM297 735h5v1h-5zM353 735h1v1h-1zM442 735h1v1h-1zM455 735h1v1h-1zM475 735h2v1h-2zM499 735h1v1h-1zM640 735h1v1h-1zM653 735h1v1h-1zM675 735h1v1h-1zM689 735h1v1h-1zM712 735h4v1h-4zM726 735h1v1h-1zM740 735h1v1h-1zM747 735h6v1h-6zM767 735h2v1h-2zM858 735h2v1h-2zM133 736h1v1h-1zM246 736h1v1h-1zM274 736h1v1h-1zM353 736h1v1h-1zM426 736h5v1h-5zM440 736h2v1h-2zM456 736h1v1h-1zM473 736h2v1h-2zM500 736h1v1h-1zM628 736h3v1h-3zM639 736h1v1h-1zM654 736h2v1h-2zM674 736h1v1h-1zM690 736h1v1h-1zM709 736h3v1h-3zM726 736h1v1h-1zM739 736h1v1h-1zM753 736h14v1h-14zM860 736h2v1h-2zM132 737h1v1h-1zM247 737h1v1h-1zM261 737h1v1h-1zM274 737h1v1h-1zM353 737h1v1h-1zM421 737h5v1h-5zM431 737h2v1h-2zM439 737h1v1h-1zM457 737h1v1h-1zM471 737h2v1h-2zM501 737h1v1h-1zM626 737h2v1h-2zM631 737h4v1h-4zM638 737h1v1h-1zM656 737h1v1h-1zM672 737h2v1h-2zM691 737h1v1h-1zM707 737h2v1h-2zM727 737h1v1h-1zM738 737h1v1h-1zM862 737h1v1h-1zM132 738h1v1h-1zM248 738h1v1h-1zM259 738h2v1h-2zM262 738h1v1h-1zM273 738h1v1h-1zM354 738h1v1h-1zM420 738h1v1h-1zM433 738h3v1h-3zM438 738h1v1h-1zM457 738h1v1h-1zM469 738h2v1h-2zM502 738h1v1h-1zM623 738h3v1h-3zM635 738h3v1h-3zM657 738h2v1h-2zM671 738h1v1h-1zM692 738h1v1h-1zM705 738h2v1h-2zM728 738h1v1h-1zM738 738h1v1h-1zM863 738h1v1h-1zM131 739h1v1h-1zM249 739h2v1h-2zM258 739h1v1h-1zM263 739h1v1h-1zM273 739h1v1h-1zM354 739h1v1h-1zM418 739h2v1h-2zM436 739h2v1h-2zM458 739h1v1h-1zM467 739h2v1h-2zM503 739h1v1h-1zM597 739h1v1h-1zM613 739h10v1h-10zM659 739h2v1h-2zM670 739h1v1h-1zM692 739h1v1h-1zM703 739h2v1h-2zM729 739h1v1h-1zM737 739h1v1h-1zM864 739h1v1h-1zM131 740h1v1h-1zM251 740h1v1h-1zM256 740h2v1h-2zM264 740h1v1h-1zM272 740h1v1h-1zM355 740h1v1h-1zM417 740h1v1h-1zM459 740h1v1h-1zM466 740h1v1h-1zM504 740h1v1h-1zM595 740h2v1h-2zM598 740h2v1h-2zM611 740h2v1h-2zM661 740h9v1h-9zM693 740h10v1h-10zM729 740h1v1h-1zM736 740h1v1h-1zM865 740h1v1h-1zM130 741h1v1h-1zM252 741h1v1h-1zM254 741h2v1h-2zM265 741h1v1h-1zM272 741h1v1h-1zM355 741h1v1h-1zM416 741h1v1h-1zM460 741h1v1h-1zM464 741h2v1h-2zM505 741h2v1h-2zM594 741h1v1h-1zM600 741h2v1h-2zM609 741h2v1h-2zM730 741h1v1h-1zM736 741h1v1h-1zM865 741h1v1h-1zM130 742h1v1h-1zM253 742h1v1h-1zM265 742h1v1h-1zM271 742h1v1h-1zM355 742h1v1h-1zM414 742h2v1h-2zM460 742h1v1h-1zM462 742h2v1h-2zM507 742h1v1h-1zM592 742h2v1h-2zM602 742h2v1h-2zM607 742h2v1h-2zM731 742h1v1h-1zM735 742h1v1h-1zM866 742h1v1h-1zM129 743h1v1h-1zM266 743h1v1h-1zM271 743h1v1h-1zM356 743h1v1h-1zM412 743h2v1h-2zM461 743h1v1h-1zM508 743h1v1h-1zM525 743h4v1h-4zM581 743h4v1h-4zM590 743h2v1h-2zM604 743h3v1h-3zM732 743h1v1h-1zM734 743h1v1h-1zM867 743h1v1h-1zM12 744h2v1h-2zM129 744h1v1h-1zM267 744h1v1h-1zM270 744h1v1h-1zM356 744h1v1h-1zM397 744h4v1h-4zM408 744h4v1h-4zM509 744h1v1h-1zM523 744h2v1h-2zM529 744h8v1h-8zM580 744h1v1h-1zM585 744h5v1h-5zM732 744h1v1h-1zM734 744h1v1h-1zM868 744h1v1h-1zM1085 744h4v1h-4zM10 745h2v1h-2zM14 745h1v1h-1zM128 745h1v1h-1zM268 745h1v1h-1zM270 745h1v1h-1zM357 745h1v1h-1zM396 745h1v1h-1zM401 745h7v1h-7zM510 745h2v1h-2zM522 745h1v1h-1zM537 745h5v1h-5zM579 745h1v1h-1zM733 745h1v1h-1zM869 745h1v1h-1zM1084 745h1v1h-1zM1089 745h6v1h-6zM1108 745h9v1h-9zM7 746h3v1h-3zM14 746h1v1h-1zM128 746h1v1h-1zM269 746h1v1h-1zM357 746h2v1h-2zM380 746h2v1h-2zM395 746h1v1h-1zM512 746h2v1h-2zM520 746h2v1h-2zM542 746h1v1h-1zM578 746h1v1h-1zM870 746h1v1h-1zM1083 746h1v1h-1zM1095 746h4v1h-4zM1104 746h4v1h-4zM5 747h2v1h-2zM15 747h1v1h-1zM127 747h1v1h-1zM359 747h4v1h-4zM378 747h2v1h-2zM382 747h2v1h-2zM394 747h1v1h-1zM514 747h2v1h-2zM518 747h2v1h-2zM543 747h1v1h-1zM576 747h2v1h-2zM870 747h1v1h-1zM908 747h5v1h-5zM1083 747h1v1h-1zM1099 747h5v1h-5zM16 748h1v1h-1zM127 748h1v1h-1zM363 748h6v1h-6zM375 748h3v1h-3zM384 748h1v1h-1zM392 748h2v1h-2zM516 748h2v1h-2zM544 748h1v1h-1zM565 748h2v1h-2zM575 748h1v1h-1zM871 748h1v1h-1zM906 748h2v1h-2zM913 748h5v1h-5zM1082 748h1v1h-1zM16 749h1v1h-1zM126 749h1v1h-1zM369 749h6v1h-6zM385 749h2v1h-2zM391 749h1v1h-1zM545 749h1v1h-1zM564 749h1v1h-1zM567 749h4v1h-4zM574 749h1v1h-1zM871 749h1v1h-1zM903 749h3v1h-3zM918 749h1v1h-1zM965 749h2v1h-2zM988 749h3v1h-3zM1081 749h1v1h-1zM17 750h1v1h-1zM126 750h1v1h-1zM387 750h2v1h-2zM390 750h1v1h-1zM546 750h1v1h-1zM562 750h2v1h-2zM571 750h3v1h-3zM872 750h1v1h-1zM898 750h5v1h-5zM919 750h2v1h-2zM963 750h2v1h-2zM967 750h4v1h-4zM986 750h2v1h-2zM991 750h2v1h-2zM1080 750h1v1h-1zM18 751h1v1h-1zM125 751h1v1h-1zM389 751h1v1h-1zM547 751h1v1h-1zM561 751h1v1h-1zM873 751h1v1h-1zM893 751h5v1h-5zM921 751h1v1h-1zM941 751h1v1h-1zM961 751h2v1h-2zM971 751h6v1h-6zM983 751h3v1h-3zM993 751h3v1h-3zM1079 751h1v1h-1zM18 752h1v1h-1zM125 752h1v1h-1zM548 752h1v1h-1zM560 752h1v1h-1zM873 752h1v1h-1zM892 752h1v1h-1zM922 752h1v1h-1zM940 752h1v1h-1zM942 752h1v1h-1zM959 752h2v1h-2zM977 752h6v1h-6zM996 752h2v1h-2zM1079 752h1v1h-1zM19 753h1v1h-1zM124 753h1v1h-1zM549 753h4v1h-4zM558 753h2v1h-2zM874 753h1v1h-1zM890 753h2v1h-2zM923 753h2v1h-2zM939 753h1v1h-1zM943 753h1v1h-1zM957 753h2v1h-2zM998 753h1v1h-1zM1053 753h1v1h-1zM1078 753h1v1h-1zM20 754h1v1h-1zM69 754h1v1h-1zM108 754h2v1h-2zM124 754h1v1h-1zM553 754h5v1h-5zM875 754h1v1h-1zM889 754h1v1h-1zM925 754h1v1h-1zM938 754h1v1h-1zM944 754h1v1h-1zM955 754h2v1h-2zM999 754h2v1h-2zM1051 754h2v1h-2zM1054 754h2v1h-2zM1077 754h1v1h-1zM20 755h1v1h-1zM26 755h4v1h-4zM68 755h1v1h-1zM70 755h2v1h-2zM106 755h2v1h-2zM110 755h1v1h-1zM123 755h1v1h-1zM875 755h1v1h-1zM888 755h1v1h-1zM926 755h2v1h-2zM936 755h2v1h-2zM945 755h2v1h-2zM954 755h1v1h-1zM1001 755h1v1h-1zM1050 755h1v1h-1zM1056 755h1v1h-1zM1075 755h2v1h-2zM21 756h5v1h-5zM30 756h1v1h-1zM67 756h1v1h-1zM72 756h1v1h-1zM84 756h5v1h-5zM103 756h3v1h-3zM110 756h1v1h-1zM123 756h1v1h-1zM876 756h1v1h-1zM886 756h2v1h-2zM928 756h2v1h-2zM935 756h1v1h-1zM947 756h1v1h-1zM952 756h2v1h-2zM1002 756h1v1h-1zM1048 756h2v1h-2zM1057 756h2v1h-2zM1074 756h1v1h-1zM31 757h1v1h-1zM66 757h1v1h-1zM73 757h2v1h-2zM82 757h2v1h-2zM89 757h14v1h-14zM111 757h1v1h-1zM122 757h1v1h-1zM876 757h1v1h-1zM882 757h4v1h-4zM930 757h2v1h-2zM934 757h1v1h-1zM948 757h1v1h-1zM950 757h2v1h-2zM1003 757h2v1h-2zM1046 757h2v1h-2zM1059 757h2v1h-2zM1072 757h2v1h-2zM32 758h1v1h-1zM64 758h2v1h-2zM75 758h2v1h-2zM79 758h3v1h-3zM111 758h1v1h-1zM122 758h1v1h-1zM877 758h5v1h-5zM932 758h2v1h-2zM949 758h1v1h-1zM1005 758h2v1h-2zM1045 758h1v1h-1zM1061 758h4v1h-4zM1070 758h2v1h-2zM33 759h1v1h-1zM63 759h1v1h-1zM77 759h2v1h-2zM112 759h1v1h-1zM121 759h1v1h-1zM1007 759h4v1h-4zM1044 759h1v1h-1zM1065 759h5v1h-5zM34 760h1v1h-1zM62 760h1v1h-1zM112 760h1v1h-1zM121 760h1v1h-1zM1011 760h6v1h-6zM1044 760h1v1h-1zM35 761h1v1h-1zM60 761h2v1h-2zM113 761h1v1h-1zM121 761h1v1h-1zM1017 761h5v1h-5zM1043 761h1v1h-1zM36 762h1v1h-1zM42 762h7v1h-7zM56 762h4v1h-4zM113 762h1v1h-1zM120 762h1v1h-1zM1022 762h2v1h-2zM1042 762h1v1h-1zM37 763h5v1h-5zM49 763h7v1h-7zM114 763h1v1h-1zM120 763h1v1h-1zM1024 763h1v1h-1zM1041 763h1v1h-1zM114 764h1v1h-1zM119 764h1v1h-1zM1025 764h2v1h-2zM1041 764h1v1h-1zM115 765h1v1h-1zM119 765h1v1h-1zM1027 765h2v1h-2zM1040 765h1v1h-1zM115 766h1v1h-1zM118 766h1v1h-1zM1029 766h2v1h-2zM1039 766h1v1h-1zM116 767h1v1h-1zM118 767h1v1h-1zM1031 767h2v1h-2zM1038 767h1v1h-1zM116 768h2v1h-2zM1033 768h3v1h-3zM1038 768h1v1h-1zM117 769h1v1h-1zM1036 769h2v1h-2z" fill="#1e90ff"/>
<path d="M8 36 L11.5 32 L15 36 Z" fill="#000" shape-rendering="auto"/>
<text transform="translate(20.3 36.9) scale(1 1.07)" font-size="9.3" fill="#000" text-anchor="start" font-weight="normal" textLength="68" lengthAdjust="spacingAndGlyphs" stroke="#000" stroke-width="0.15">AUDUSD-,Daily</text>
<text transform="translate(94.8 36.9) scale(1 1.07)" font-size="9.3" fill="#000" text-anchor="start" font-weight="normal" textLength="32.2" lengthAdjust="spacingAndGlyphs" stroke="#000" stroke-width="0.15">0.69243</text>
<text transform="translate(131.1 36.9) scale(1 1.07)" font-size="9.3" fill="#000" text-anchor="start" font-weight="normal" textLength="32.2" lengthAdjust="spacingAndGlyphs" stroke="#000" stroke-width="0.15">0.69297</text>
<text transform="translate(167.3 36.9) scale(1 1.07)" font-size="9.3" fill="#000" text-anchor="start" font-weight="normal" textLength="32.2" lengthAdjust="spacingAndGlyphs" stroke="#000" stroke-width="0.15">0.69226</text>
<text transform="translate(203.5 36.9) scale(1 1.07)" font-size="9.3" fill="#000" text-anchor="start" font-weight="normal" textLength="32.2" lengthAdjust="spacingAndGlyphs" stroke="#000" stroke-width="0.15">0.69259</text>
<text transform="translate(9.5 579) scale(1 1.07)" font-size="9.3" fill="#000" text-anchor="start" font-weight="normal" textLength="153.5" lengthAdjust="spacingAndGlyphs" stroke="#000" stroke-width="0.15">MACD(12,26,9) -0.003036 -0.004135</text>
<text transform="translate(9.3 684) scale(1 1.07)" font-size="9.3" fill="#000" text-anchor="start" font-weight="normal" textLength="67.6" lengthAdjust="spacingAndGlyphs" stroke="#000" stroke-width="0.15">RSI(14) 43.6395</text>
<path d="M1131 26h9v1h-9zM1132 27h7v1h-7zM1133 28h5v1h-5zM1134 29h3v1h-3zM1135 30h1v1h-1z" fill="#c0c0c0"/>
<rect x="6" y="43" width="223" height="68" fill="#ffffff" />
<rect x="8" y="45" width="52" height="25" fill="url(#gtab)" />
<rect x="175" y="45" width="52" height="25" fill="url(#gtab)" />
<rect x="8" y="69" width="109" height="40" fill="url(#gpan)" />
<rect x="119" y="69" width="108" height="40" fill="url(#gpan)" />
<rect x="60" y="45" width="115" height="24" fill="#ffffff" />
<g fill="none" stroke="#0a0aa8" stroke-width="1"><path d="M8.5 108.5 V45.5 H59.5 V69.5 H116.5 V108.5 Z"/><path d="M119.5 69.5 H175.5 V45.5 H226.5 V108.5 H119.5 Z"/></g>
<rect x="12" y="68" width="44" height="1" fill="#1414a0" />
<rect x="12" y="69" width="44" height="1" fill="#6a6af0" />
<rect x="179" y="68" width="44" height="1" fill="#1414a0" />
<rect x="179" y="69" width="44" height="1" fill="#6a6af0" />
<text x="20.3" y="60.7" font-size="12" fill="#fff" text-anchor="start" font-weight="normal" textLength="25.5" lengthAdjust="spacingAndGlyphs" >SELL</text>
<text x="188.3" y="60.7" font-size="12" fill="#fff" text-anchor="start" font-weight="normal" textLength="24" lengthAdjust="spacingAndGlyphs" >BUY</text>
<rect x="62.5" y="45.5" width="110" height="21" fill="#fff" stroke="#9a9a9a"/>
<rect x="64" y="47" width="19" height="18" fill="url(#gbtn)" />
<rect x="83" y="46" width="1" height="20" fill="#b0b0b0" />
<rect x="152" y="47" width="20" height="18" fill="url(#gbtn)" />
<rect x="151" y="46" width="1" height="20" fill="#b0b0b0" />
<path d="M69.5 54 L75.5 54 L72.5 57.5 Z" fill="#4a5ac8" shape-rendering="auto"/>
<path d="M158.8 57.3 L164.6 57.3 L161.7 53.8 Z" fill="#4a5ac8" shape-rendering="auto"/>
<text x="124.4" y="59.9" font-size="12.4" fill="#000" text-anchor="start" font-weight="normal" textLength="23.1" lengthAdjust="spacingAndGlyphs" >1.00</text>
<text x="28" y="99.2" font-size="12.4" fill="#fff" text-anchor="start" font-weight="bold" textLength="24" lengthAdjust="spacingAndGlyphs" >0.69</text>
<text x="56.2" y="100.2" font-size="34" fill="#fff" text-anchor="start" font-weight="normal" textLength="34.3" lengthAdjust="spacingAndGlyphs" stroke="url(#gpan)" stroke-width="0.55">25</text>
<text x="95" y="83.7" font-size="12.3" fill="#fff" text-anchor="start" font-weight="bold" >9</text>
<text x="138" y="99.2" font-size="12.4" fill="#fff" text-anchor="start" font-weight="bold" textLength="24" lengthAdjust="spacingAndGlyphs" >0.69</text>
<text x="167" y="100.2" font-size="34" fill="#fff" text-anchor="start" font-weight="normal" textLength="34.3" lengthAdjust="spacingAndGlyphs" stroke="url(#gpan)" stroke-width="0.55">27</text>
<text x="206.3" y="83.7" font-size="12.3" fill="#fff" text-anchor="start" font-weight="bold" >8</text>
<rect x="0" y="824" width="1463" height="1" fill="#000" />
<rect x="114" y="823" width="108" height="20" fill="#ffffff" />
<path d="M114.5 824 V842.5 H221.5 V824" fill="none" stroke="#000" stroke-width="1"/>
<rect x="115" y="824" width="106" height="1" fill="#fff" />
<rect x="1" y="827" width="1" height="15" fill="#808080" />
<text x="17" y="839" font-size="12.5" fill="#6e6e6e" text-anchor="start" font-weight="normal" textLength="85" lengthAdjust="spacingAndGlyphs" >EURUSD-,Daily</text>
<text x="124.4" y="839" font-size="12.5" fill="#000" text-anchor="start" font-weight="normal" textLength="86.5" lengthAdjust="spacingAndGlyphs" >AUDUSD-,Daily</text>
<text x="234" y="839" font-size="12.5" fill="#6e6e6e" text-anchor="start" font-weight="normal" textLength="84" lengthAdjust="spacingAndGlyphs" >USDCHF-,Daily</text>
<text x="341" y="839" font-size="12.5" fill="#6e6e6e" text-anchor="start" font-weight="normal" textLength="86" lengthAdjust="spacingAndGlyphs" >USDCAD-,Daily</text>
<text x="450" y="839" font-size="12.5" fill="#6e6e6e" text-anchor="start" font-weight="normal" textLength="88" lengthAdjust="spacingAndGlyphs" >USDCNH-,Daily</text>
<text x="561" y="839" font-size="12.5" fill="#6e6e6e" text-anchor="start" font-weight="normal" textLength="97" lengthAdjust="spacingAndGlyphs" >EURCHF-,Weekly</text>
<rect x="329" y="828" width="1" height="13" fill="#808080" />
<rect x="438" y="828" width="1" height="13" fill="#808080" />
<rect x="549" y="828" width="1" height="13" fill="#808080" />
<rect x="670" y="828" width="1" height="13" fill="#808080" />
<path d="M1435.6 833.2 L1439.2 829.8 L1439.2 836.6 Z" fill="#8c8c8c" shape-rendering="auto"/>
<path d="M1458.4 833.2 L1454.8 829.8 L1454.8 836.6 Z" fill="#8c8c8c" shape-rendering="auto"/>
</svg>
</body></html>
